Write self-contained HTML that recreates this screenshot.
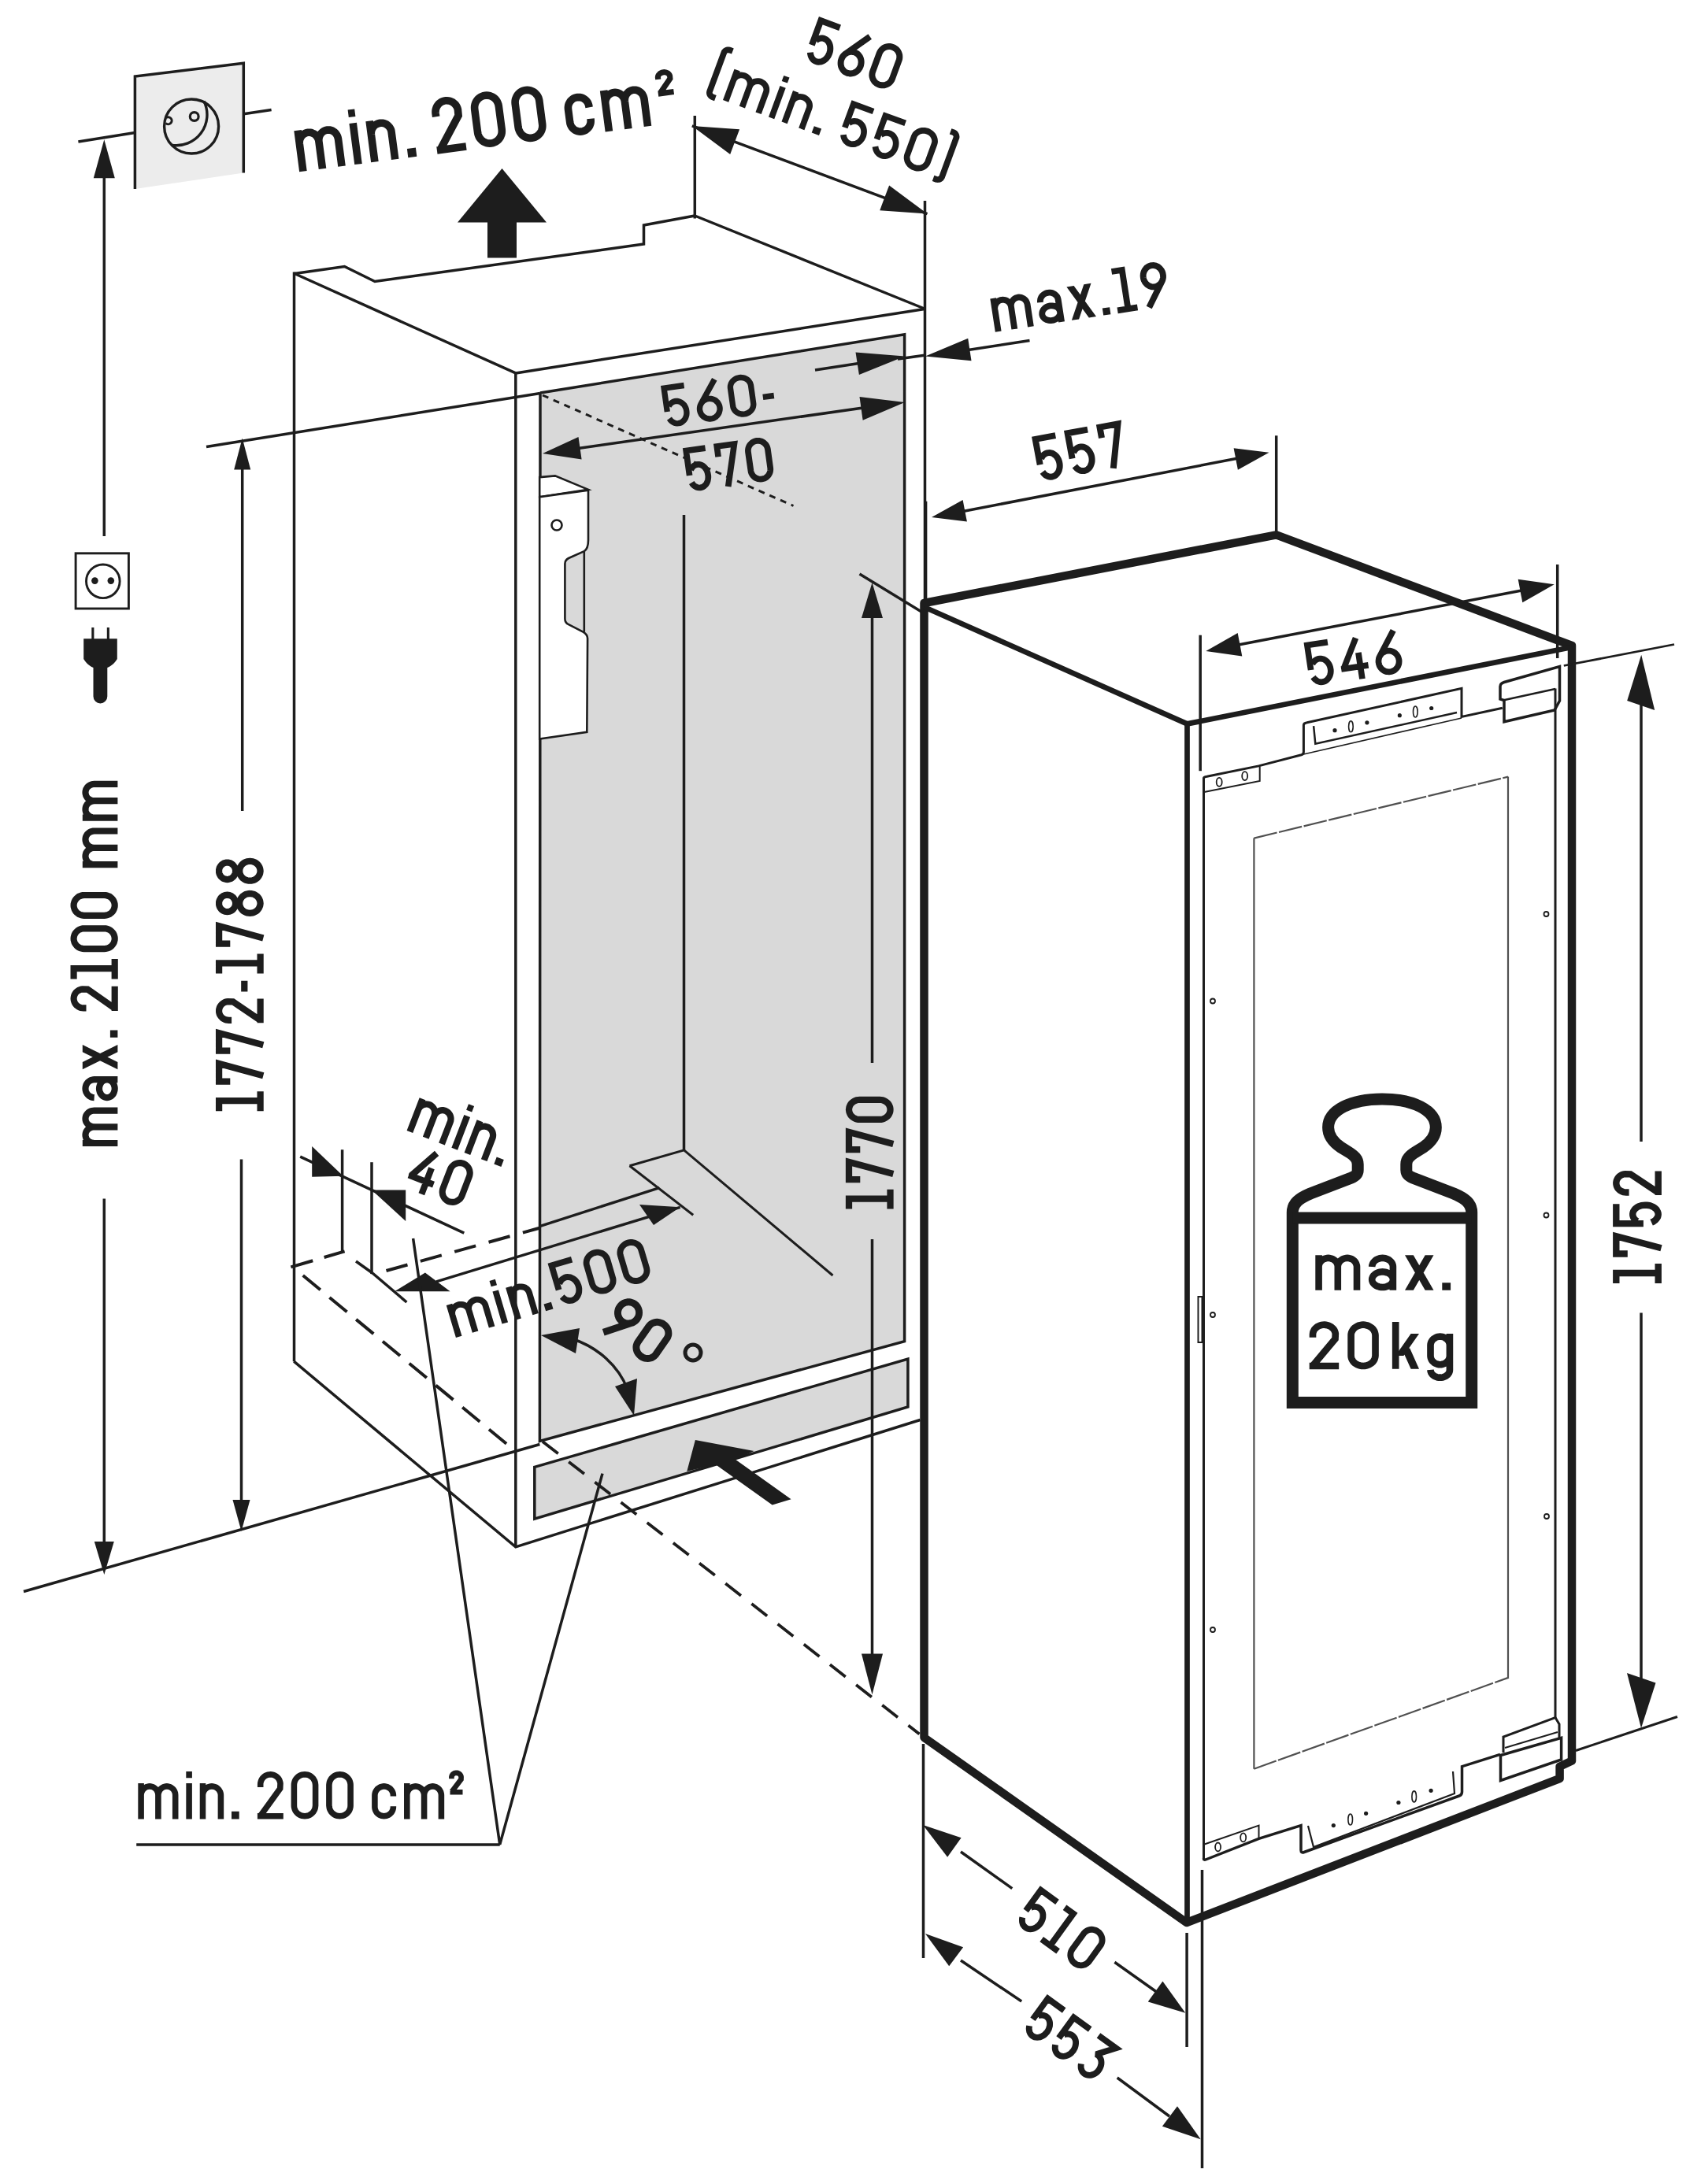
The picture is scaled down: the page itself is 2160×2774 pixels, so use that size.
<!DOCTYPE html>
<html><head><meta charset="utf-8"><style>
html,body{margin:0;padding:0;background:#fff;}
svg{display:block;}
text{font-family:"Liberation Sans",sans-serif;}
</style></head><body>
<svg xmlns="http://www.w3.org/2000/svg" width="2160" height="2774" viewBox="0 0 2160 2774">
<rect width="2160" height="2774" fill="#fff"/>
<g stroke="#1d1d1d" fill="none" stroke-linecap="butt" stroke-linejoin="miter">
<polygon points="171.4,97 309.3,80.3 309.3,219.6 171.4,239.9" fill="#ececec" stroke="none"/>
<polyline points="171.4,239.9 171.4,97 309.3,80.3 309.3,219.6" fill="none" stroke-width="3.5" />
<line x1="99.4" y1="180" x2="171.4" y2="168.5" stroke-width="3.5" />
<line x1="309.3" y1="144.7" x2="344.6" y2="139.4" stroke-width="3.5" />
<circle cx="243.1" cy="160.5" r="34.5" stroke-width="3.4"/>
<circle cx="246.7" cy="148" r="5.4" stroke-width="3.2"/>
<path d="M 211.5 149.3 A 4.5 4.5 0 1 1 210.5 156.5" stroke-width="3"/>
<path d="M 259 128.6 A 39 39 0 0 1 217.6 184.2" stroke-width="3.4"/>
<line x1="132.3" y1="220" x2="132.3" y2="681" stroke-width="3.5" />
<polygon points="132.3,177.3 145.8,226.3 118.8,226.3" fill="#1d1d1d" stroke="none"/>
<line x1="132.3" y1="1522.5" x2="132.3" y2="1965" stroke-width="3.5" />
<polygon points="132.3,2000 119.8,1958 144.8,1958" fill="#1d1d1d" stroke="none"/>
<path d="M104.8,1452.0 L149.4,1452.0 M119.7,1452.0 L119.7,1452.0 L118.2,1451.9 L116.8,1451.6 L115.4,1451.2 L114.1,1450.6 L112.9,1449.8 L111.8,1448.9 L110.8,1447.9 L110.0,1446.8 L109.3,1445.6 L108.9,1444.3 L108.6,1443.0 L108.5,1441.6 L108.6,1440.3 L108.9,1438.9 L109.3,1437.7 L110.0,1436.5 L110.8,1435.3 L111.8,1434.3 L112.9,1433.4 L114.1,1432.7 L115.4,1432.1 L116.8,1431.6 L118.2,1431.4 L119.7,1431.3 L149.4,1431.3 M119.7,1431.3 L119.7,1431.3 L118.2,1431.2 L116.8,1430.9 L115.4,1430.5 L114.1,1429.9 L112.9,1429.1 L111.8,1428.2 L110.8,1427.2 L110.0,1426.1 L109.3,1424.9 L108.9,1423.6 L108.6,1422.3 L108.5,1420.9 L108.6,1419.6 L108.9,1418.2 L109.3,1417.0 L110.0,1415.7 L110.8,1414.6 L111.8,1413.6 L112.9,1412.7 L114.1,1412.0 L115.4,1411.4 L116.8,1410.9 L118.2,1410.7 L119.7,1410.6 L149.4,1410.6 M119.7,1394.1 L118.2,1394.0 L116.8,1393.7 L115.4,1393.2 L114.1,1392.5 L112.9,1391.7 L111.8,1390.7 L110.8,1389.6 L110.0,1388.3 L109.3,1387.0 L108.9,1385.6 L108.6,1384.1 L108.5,1382.6 L108.6,1381.1 L108.9,1379.7 L109.3,1378.3 L110.0,1376.9 L110.8,1375.7 L111.8,1374.5 L112.9,1373.6 L114.1,1372.7 L115.4,1372.1 L116.8,1371.6 L118.2,1371.3 L119.7,1371.2 L149.4,1371.2 M135.9,1371.2 L137.1,1371.3 L138.4,1371.6 L139.6,1372.1 L140.8,1372.7 L141.8,1373.6 L142.8,1374.5 L143.7,1375.7 L144.4,1376.9 L144.9,1378.3 L145.3,1379.7 L145.6,1381.1 L145.7,1382.6 L145.6,1384.1 L145.3,1385.6 L144.9,1387.0 L144.4,1388.3 L143.7,1389.6 L142.8,1390.7 L141.8,1391.7 L140.8,1392.5 L139.6,1393.2 L138.4,1393.7 L137.1,1394.0 L135.9,1394.1 L134.6,1394.0 L133.3,1393.7 L132.1,1393.2 L131.0,1392.5 L129.9,1391.7 L128.9,1390.7 L128.1,1389.6 L127.4,1388.3 L126.8,1387.0 L126.4,1385.6 L126.1,1384.1 L126.0,1382.6 L126.1,1381.1 L126.4,1379.7 L126.8,1378.3 L127.4,1376.9 L128.1,1375.7 L128.9,1374.5 L129.9,1373.6 L131.0,1372.7 L132.1,1372.1 L133.3,1371.6 L134.6,1371.3 L135.9,1371.2 Z" stroke="#1d1d1d" stroke-width="8.18" fill="none" stroke-linejoin="miter" stroke-miterlimit="2.5"/>
<path d="M104.8,1358.3 L104.8,1349.0 L149.4,1327.0 L149.4,1336.3 Z M104.8,1336.3 L104.8,1327.0 L149.4,1349.0 L149.4,1358.3 Z M139.9,1317.8 L139.9,1308.5 L149.4,1308.5 L149.4,1317.8 Z" fill="#1d1d1d" stroke="none"/>
<path d="M109.5,1280.4 L106.0,1280.4 L104.3,1280.3 L102.7,1280.0 L101.2,1279.4 L99.7,1278.7 L98.4,1277.8 L97.1,1276.8 L96.1,1275.6 L95.2,1274.2 L94.5,1272.8 L94.0,1271.3 L93.7,1269.7 L93.6,1268.1 L93.8,1266.5 L94.1,1264.9 L94.7,1263.4 L95.5,1262.0 L96.4,1260.7 L97.5,1259.6 L98.8,1258.6 L100.2,1257.7 L101.7,1257.1 L103.3,1256.6 L104.9,1256.4 L111.3,1256.6 L144.5,1279.8 M145.7,1284.0 L145.7,1252.7 M93.6,1243.5 L93.6,1230.1 L145.7,1230.1 M145.7,1243.5 L145.7,1218.0 M106.9,1205.1 L105.1,1205.0 L103.4,1204.6 L101.8,1204.1 L100.2,1203.4 L98.8,1202.4 L97.5,1201.3 L96.4,1200.0 L95.4,1198.6 L94.6,1197.1 L94.1,1195.5 L93.7,1193.9 L93.6,1192.2 L93.7,1190.5 L94.1,1188.9 L94.6,1187.3 L95.4,1185.7 L96.4,1184.3 L97.5,1183.1 L98.8,1182.0 L100.2,1181.0 L101.8,1180.3 L103.4,1179.7 L105.1,1179.4 L106.9,1179.3 L132.4,1179.3 L134.2,1179.4 L135.9,1179.7 L137.5,1180.3 L139.1,1181.0 L140.5,1182.0 L141.8,1183.1 L142.9,1184.3 L143.9,1185.7 L144.7,1187.3 L145.2,1188.9 L145.6,1190.5 L145.7,1192.2 L145.6,1193.9 L145.2,1195.5 L144.7,1197.1 L143.9,1198.6 L142.9,1200.0 L141.8,1201.3 L140.5,1202.4 L139.1,1203.4 L137.5,1204.1 L135.9,1204.6 L134.2,1205.0 L132.4,1205.1 Z M106.9,1162.8 L105.1,1162.7 L103.4,1162.4 L101.8,1161.8 L100.2,1161.1 L98.8,1160.1 L97.5,1159.0 L96.4,1157.8 L95.4,1156.4 L94.6,1154.8 L94.1,1153.2 L93.7,1151.6 L93.6,1149.9 L93.7,1148.2 L94.1,1146.6 L94.6,1145.0 L95.4,1143.5 L96.4,1142.1 L97.5,1140.8 L98.8,1139.7 L100.2,1138.7 L101.8,1138.0 L103.4,1137.5 L105.1,1137.1 L106.9,1137.0 L132.4,1137.0 L134.2,1137.1 L135.9,1137.5 L137.5,1138.0 L139.1,1138.7 L140.5,1139.7 L141.8,1140.8 L142.9,1142.1 L143.9,1143.5 L144.7,1145.0 L145.2,1146.6 L145.6,1148.2 L145.7,1149.9 L145.6,1151.6 L145.2,1153.2 L144.7,1154.8 L143.9,1156.4 L142.9,1157.8 L141.8,1159.0 L140.5,1160.1 L139.1,1161.1 L137.5,1161.8 L135.9,1162.4 L134.2,1162.7 L132.4,1162.8 Z" stroke="#1d1d1d" stroke-width="8.18" fill="none" stroke-linejoin="miter" stroke-miterlimit="2.5"/>
<path d="M104.8,1098.2 L149.4,1098.2 M119.7,1098.2 L119.7,1098.2 L118.2,1098.1 L116.8,1097.8 L115.4,1097.4 L114.1,1096.7 L112.9,1096.0 L111.8,1095.1 L110.8,1094.0 L110.0,1092.8 L109.3,1091.6 L108.9,1090.3 L108.6,1088.9 L108.5,1087.5 L108.6,1086.1 L108.9,1084.8 L109.3,1083.4 L110.0,1082.2 L110.8,1081.0 L111.8,1080.0 L112.9,1079.1 L114.1,1078.3 L115.4,1077.7 L116.8,1077.2 L118.2,1077.0 L119.7,1076.9 L149.4,1076.9 M119.7,1076.9 L119.7,1076.9 L118.2,1076.8 L116.8,1076.5 L115.4,1076.0 L114.1,1075.4 L112.9,1074.7 L111.8,1073.7 L110.8,1072.7 L110.0,1071.5 L109.3,1070.3 L108.9,1069.0 L108.6,1067.6 L108.5,1066.2 L108.6,1064.8 L108.9,1063.4 L109.3,1062.1 L110.0,1060.9 L110.8,1059.7 L111.8,1058.7 L112.9,1057.7 L114.1,1057.0 L115.4,1056.4 L116.8,1055.9 L118.2,1055.6 L119.7,1055.5 L149.4,1055.5 M104.8,1038.6 L149.4,1038.6 M119.7,1038.6 L119.7,1038.6 L118.2,1038.5 L116.8,1038.2 L115.4,1037.7 L114.1,1037.1 L112.9,1036.4 L111.8,1035.4 L110.8,1034.4 L110.0,1033.2 L109.3,1032.0 L108.9,1030.7 L108.6,1029.3 L108.5,1027.9 L108.6,1026.5 L108.9,1025.1 L109.3,1023.8 L110.0,1022.6 L110.8,1021.4 L111.8,1020.4 L112.9,1019.4 L114.1,1018.7 L115.4,1018.1 L116.8,1017.6 L118.2,1017.3 L119.7,1017.2 L149.4,1017.2 M119.7,1017.2 L119.7,1017.2 L118.2,1017.1 L116.8,1016.9 L115.4,1016.4 L114.1,1015.8 L112.9,1015.0 L111.8,1014.1 L110.8,1013.1 L110.0,1011.9 L109.3,1010.7 L108.9,1009.3 L108.6,1008.0 L108.5,1006.6 L108.6,1005.2 L108.9,1003.8 L109.3,1002.5 L110.0,1001.3 L110.8,1000.1 L111.8,999.0 L112.9,998.1 L114.1,997.4 L115.4,996.7 L116.8,996.3 L118.2,996.0 L119.7,995.9 L149.4,995.9" stroke="#1d1d1d" stroke-width="8.18" fill="none" stroke-linejoin="miter" stroke-miterlimit="2.5"/>
<rect x="96.1" y="702.8" width="67.3" height="70.2" stroke-width="2.9"/>
<circle cx="130.8" cy="738.3" r="21.3" stroke-width="2.9"/>
<circle cx="120.4" cy="737.6" r="4.3" fill="#1d1d1d" stroke="none"/>
<circle cx="140.8" cy="737.6" r="4.3" fill="#1d1d1d" stroke="none"/>
<rect x="116.3" y="797" width="3.1" height="15" fill="#1d1d1d" stroke="none"/>
<rect x="135.8" y="797" width="3.1" height="15" fill="#1d1d1d" stroke="none"/>
<path d="M106.2 811.2 H148.8 V837 C146 842 141 846 136.3 848 V884.5 A8.9 8.9 0 0 1 118.5 884.5 V848 C114 846 109 842 106.2 837 Z" fill="#1d1d1d" stroke="none"/>
<line x1="307.7" y1="590" x2="307.7" y2="1030" stroke-width="3.5" />
<polygon points="307.7,556.4 318.2,596.4 297.2,596.4" fill="#1d1d1d" stroke="none"/>
<line x1="306.5" y1="1472.5" x2="306.5" y2="1910" stroke-width="3.5" />
<polygon points="306.5,1945 295.5,1905 317.5,1905" fill="#1d1d1d" stroke="none"/>
<path d="M278.1,1411.3 L278.1,1398.2 L330.6,1398.2 M330.6,1411.3 L330.6,1386.2 M292.3,1373.5 L278.1,1373.5 L278.1,1350.9 L334.3,1366.2 M292.3,1334.6 L278.1,1334.6 L278.1,1312.1 L334.3,1327.3 M294.1,1295.8 L290.5,1295.8 L288.9,1295.7 L287.2,1295.4 L285.7,1294.9 L284.2,1294.1 L282.8,1293.3 L281.6,1292.2 L280.5,1291.0 L279.6,1289.7 L278.9,1288.3 L278.4,1286.8 L278.1,1285.2 L278.1,1283.7 L278.2,1282.1 L278.6,1280.6 L279.1,1279.1 L279.9,1277.7 L280.9,1276.4 L282.0,1275.3 L283.3,1274.3 L284.7,1273.4 L286.2,1272.8 L287.8,1272.4 L289.4,1272.1 L295.9,1272.4 L329.4,1295.2 M330.6,1299.3 L330.6,1268.5 M310.3,1259.4 L310.3,1245.7 M278.1,1236.5 L278.1,1223.4 L330.6,1223.4 M330.6,1236.5 L330.6,1211.4 M292.3,1198.7 L278.1,1198.7 L278.1,1176.1 L334.3,1191.4 M288.6,1136.7 L289.9,1136.8 L291.3,1137.1 L292.6,1137.5 L293.8,1138.1 L294.9,1138.9 L296.0,1139.8 L296.9,1140.9 L297.6,1142.1 L298.3,1143.3 L298.7,1144.6 L299.0,1146.0 L299.1,1147.4 L299.0,1148.8 L298.7,1150.2 L298.3,1151.5 L297.6,1152.8 L296.9,1153.9 L296.0,1155.0 L294.9,1155.9 L293.8,1156.7 L292.6,1157.3 L291.3,1157.8 L289.9,1158.0 L288.6,1158.1 L287.2,1158.0 L285.8,1157.8 L284.5,1157.3 L283.3,1156.7 L282.2,1155.9 L281.1,1155.0 L280.2,1153.9 L279.5,1152.8 L278.8,1151.5 L278.4,1150.2 L278.1,1148.8 L278.1,1147.4 L278.1,1146.0 L278.4,1144.6 L278.8,1143.3 L279.5,1142.1 L280.2,1140.9 L281.1,1139.8 L282.2,1138.9 L283.3,1138.1 L284.5,1137.5 L285.8,1137.1 L287.2,1136.8 L288.6,1136.7 Z M317.4,1135.0 L319.1,1135.1 L320.8,1135.4 L322.4,1135.9 L323.9,1136.7 L325.4,1137.6 L326.7,1138.6 L327.8,1139.9 L328.8,1141.2 L329.5,1142.7 L330.1,1144.2 L330.4,1145.8 L330.6,1147.4 L330.4,1149.0 L330.1,1150.6 L329.5,1152.2 L328.8,1153.6 L327.8,1155.0 L326.7,1156.2 L325.4,1157.3 L323.9,1158.2 L322.4,1158.9 L320.8,1159.4 L319.1,1159.7 L317.4,1159.8 L315.6,1159.7 L313.9,1159.4 L312.3,1158.9 L310.8,1158.2 L309.3,1157.3 L308.0,1156.2 L306.9,1155.0 L305.9,1153.6 L305.2,1152.2 L304.6,1150.6 L304.3,1149.0 L304.2,1147.4 L304.3,1145.8 L304.6,1144.2 L305.2,1142.7 L305.9,1141.2 L306.9,1139.9 L308.0,1138.6 L309.3,1137.6 L310.8,1136.7 L312.3,1135.9 L313.9,1135.4 L315.6,1135.1 L317.4,1135.0 Z M288.6,1095.6 L289.9,1095.7 L291.3,1095.9 L292.6,1096.4 L293.8,1097.0 L294.9,1097.8 L296.0,1098.7 L296.9,1099.8 L297.6,1100.9 L298.3,1102.2 L298.7,1103.5 L299.0,1104.9 L299.1,1106.3 L299.0,1107.7 L298.7,1109.1 L298.3,1110.4 L297.6,1111.6 L296.9,1112.8 L296.0,1113.9 L294.9,1114.8 L293.8,1115.6 L292.6,1116.2 L291.3,1116.6 L289.9,1116.9 L288.6,1117.0 L287.2,1116.9 L285.8,1116.6 L284.5,1116.2 L283.3,1115.6 L282.2,1114.8 L281.1,1113.9 L280.2,1112.8 L279.5,1111.6 L278.8,1110.4 L278.4,1109.1 L278.1,1107.7 L278.1,1106.3 L278.1,1104.9 L278.4,1103.5 L278.8,1102.2 L279.5,1100.9 L280.2,1099.8 L281.1,1098.7 L282.2,1097.8 L283.3,1097.0 L284.5,1096.4 L285.8,1095.9 L287.2,1095.7 L288.6,1095.6 Z M317.4,1093.9 L319.1,1094.0 L320.8,1094.3 L322.4,1094.8 L323.9,1095.5 L325.4,1096.4 L326.7,1097.5 L327.8,1098.7 L328.8,1100.1 L329.5,1101.5 L330.1,1103.1 L330.4,1104.7 L330.6,1106.3 L330.4,1107.9 L330.1,1109.5 L329.5,1111.0 L328.8,1112.5 L327.8,1113.9 L326.7,1115.1 L325.4,1116.1 L323.9,1117.1 L322.4,1117.8 L320.8,1118.3 L319.1,1118.6 L317.4,1118.7 L315.6,1118.6 L313.9,1118.3 L312.3,1117.8 L310.8,1117.1 L309.3,1116.1 L308.0,1115.1 L306.9,1113.9 L305.9,1112.5 L305.2,1111.0 L304.6,1109.5 L304.3,1107.9 L304.2,1106.3 L304.3,1104.7 L304.6,1103.1 L305.2,1101.5 L305.9,1100.1 L306.9,1098.7 L308.0,1097.5 L309.3,1096.4 L310.8,1095.5 L312.3,1094.8 L313.9,1094.3 L315.6,1094.0 L317.4,1093.9 Z" stroke="#1d1d1d" stroke-width="8.25" fill="none" stroke-linejoin="miter" stroke-miterlimit="2.5"/>
<line x1="262" y1="567.5" x2="686" y2="499.5" stroke-width="3.5" />
<polygon points="686,499 1148.6,424.7 1148.6,1703.7 685.4,1830.4" fill="#d9d9d9" stroke="none"/>
<polyline points="686,499 1148.6,424.7 1148.6,1703.7 685.4,1830.4 686,499" fill="none" stroke-width="3.5" />
<polygon points="678.8,1863.4 1152.9,1726.1 1152.9,1787 678.8,1929.2" fill="#d9d9d9" stroke="none"/>
<polygon points="678.8,1863.4 1152.9,1726.1 1152.9,1787 678.8,1929.2" fill="none" stroke-width="3.5" />
<line x1="373.5" y1="345.5" x2="373.5" y2="1729.2" stroke-width="3.5" />
<polyline points="374,347.5 437.5,338.5 476,357.5 817.5,310 817.5,286 882.3,274" fill="none" stroke-width="3.5" />
<line x1="374" y1="347.5" x2="654.8" y2="473.9" stroke-width="3.5" />
<line x1="882.3" y1="274" x2="1175" y2="392.5" stroke-width="3.5" />
<line x1="654.8" y1="473.9" x2="1174" y2="392.5" stroke-width="3.5" />
<line x1="654.8" y1="472" x2="654.8" y2="1964.8" stroke-width="3.5" />
<polyline points="373.2,1729.2 654.8,1964.8 1168.4,1803.5" fill="none" stroke-width="3.5" />
<line x1="1174.5" y1="255" x2="1174.5" y2="2207" stroke-width="3.5" />
<line x1="30" y1="2021.5" x2="685.4" y2="1834.5" stroke-width="3.5" />
<polygon points="685.2,606.1 704.9,604.4 747,621.8 685.2,631.3" fill="#fff" stroke-width="2.6" />
<path d="M685.2 631.3 L747 622.6 V686 Q747 697 741.8 700.1 L722 709 Q717.4 711.5 717.4 716 V786 Q717.4 791 722 793.2 L740.9 802.8 Q746.1 806 746.1 811 L745.3 929.8 L685.2 938.5 Z" fill="#fff" stroke-width="2.6"/>
<line x1="741.8" y1="700.1" x2="741.8" y2="802.8" stroke-width="2.6" />
<circle cx="707" cy="667" r="6.5" stroke-width="2.6"/>
<line x1="868.5" y1="654" x2="868.5" y2="1461" stroke-width="3.5" />
<polyline points="799.5,1480.7 868.6,1460.9 1057.5,1620" fill="none" stroke-width="3" />
<line x1="799.5" y1="1480.7" x2="880.2" y2="1543.2" stroke-width="3" />
<line x1="689" y1="502" x2="1007.5" y2="642.5" stroke-width="3" stroke-dasharray="8 7"/>
<line x1="720" y1="571.5" x2="1110" y2="516" stroke-width="3.5" />
<polygon points="689,576 734.5,554.9 738.6,583.6" fill="#1d1d1d" stroke="none"/>
<polygon points="1149,511 1095.6,533.7 1091.5,504" fill="#1d1d1d" stroke="none"/>
<path d="M868.6,489.5 L843.1,493.1 L847.3,523.1 M849.2,515.9 L850.1,514.4 L851.2,513.0 L852.5,511.8 L853.8,510.9 L855.3,510.2 L856.9,509.7 L858.5,509.5 L860.2,509.5 L861.8,509.8 L863.4,510.3 L864.9,511.1 L866.4,512.1 L867.7,513.3 L868.9,514.6 L869.9,516.2 L870.7,517.9 L871.3,519.6 L871.7,521.5 L871.9,523.4 L871.9,525.3 L871.7,527.2 L871.2,529.0 L870.6,530.7 L869.7,532.2 L868.7,533.7 L867.5,534.9 L866.2,536.0 L864.7,536.8 L863.2,537.4 L861.6,537.7 L859.9,537.8 L858.3,537.6 L856.7,537.2 L855.1,536.5 L853.6,535.6 L852.3,534.5 L851.0,533.2 L849.9,531.7 M914.0,517.4 L914.1,518.5 L914.1,519.6 L914.0,520.7 L913.8,521.8 L913.5,522.9 L913.2,524.0 L912.7,525.0 L912.1,526.0 L911.5,526.9 L910.8,527.8 L910.0,528.5 L909.2,529.3 L908.3,529.9 L907.3,530.5 L906.3,531.0 L905.2,531.4 L904.2,531.7 L903.1,531.9 L902.0,532.0 L900.8,532.0 L899.7,531.9 L898.6,531.7 L897.5,531.4 L896.5,531.1 L895.5,530.6 L894.5,530.0 L893.6,529.4 L892.7,528.7 L891.9,527.9 L891.2,527.1 L890.5,526.2 L890.0,525.2 L889.5,524.2 L889.1,523.1 L888.8,522.1 L888.6,521.0 L888.5,519.8 L888.5,518.7 L888.6,517.6 L888.8,516.5 L889.0,515.4 L889.4,514.4 L889.9,513.4 L890.4,512.4 L891.1,511.5 L891.8,510.6 L892.5,509.8 L893.4,509.1 L894.3,508.4 L895.3,507.9 L896.3,507.4 L897.3,507.0 L898.4,506.7 L899.5,506.5 L900.6,506.4 L901.7,506.4 L902.8,506.5 L903.9,506.6 L905.0,506.9 L906.1,507.3 L907.1,507.8 L908.1,508.3 L909.0,508.9 L909.8,509.7 L910.6,510.4 L911.4,511.3 L912.0,512.2 L912.6,513.2 L913.1,514.2 L913.5,515.2 L913.8,516.3 L914.0,517.4 Z M907.3,481.8 L890.1,513.0 M927.5,493.2 L927.4,491.7 L927.5,490.1 L927.9,488.6 L928.4,487.1 L929.2,485.7 L930.1,484.4 L931.3,483.2 L932.6,482.1 L934.0,481.2 L935.5,480.5 L937.2,480.0 L938.8,479.7 L940.5,479.5 L942.2,479.6 L943.9,479.9 L945.5,480.3 L947.1,481.0 L948.5,481.8 L949.8,482.8 L950.9,484.0 L951.8,485.2 L952.6,486.6 L953.1,488.1 L953.5,489.6 L956.7,512.3 L956.8,513.9 L956.6,515.4 L956.3,517.0 L955.7,518.5 L955.0,519.9 L954.0,521.2 L952.9,522.4 L951.6,523.4 L950.2,524.3 L948.6,525.1 L947.0,525.6 L945.3,525.9 L943.6,526.1 L941.9,526.0 L940.2,525.7 L938.6,525.3 L937.1,524.6 L935.7,523.8 L934.4,522.8 L933.3,521.6 L932.3,520.3 L931.6,519.0 L931.0,517.5 L930.7,516.0 Z M968.8,504.4 L982.8,502.5" stroke="#1d1d1d" stroke-width="7.34" fill="none" stroke-linejoin="miter" stroke-miterlimit="2.5"/>
<path d="M895.6,569.1 L871.2,572.5 L875.6,604.0 M877.3,596.4 L878.2,594.9 L879.2,593.5 L880.4,592.3 L881.7,591.3 L883.2,590.5 L884.7,590.1 L886.2,589.8 L887.8,589.9 L889.4,590.2 L890.9,590.8 L892.4,591.6 L893.8,592.6 L895.1,593.9 L896.2,595.4 L897.2,597.0 L898.0,598.8 L898.6,600.7 L899.0,602.6 L899.3,604.6 L899.3,606.6 L899.1,608.5 L898.7,610.4 L898.1,612.2 L897.3,613.8 L896.3,615.3 L895.1,616.6 L893.9,617.7 L892.5,618.5 L891.0,619.1 L889.5,619.4 L887.9,619.5 L886.3,619.3 L884.8,618.8 L883.3,618.1 L881.8,617.2 L880.5,616.0 L879.3,614.6 L878.3,613.0 M912.1,580.2 L910.3,567.0 L932.4,563.9 L924.7,618.0 M950.0,574.0 L949.9,572.4 L950.0,570.8 L950.3,569.2 L950.8,567.6 L951.5,566.2 L952.4,564.8 L953.5,563.6 L954.7,562.5 L956.1,561.5 L957.5,560.8 L959.1,560.3 L960.7,559.9 L962.3,559.8 L964.0,559.9 L965.6,560.2 L967.1,560.7 L968.6,561.4 L970.0,562.3 L971.2,563.4 L972.3,564.6 L973.3,565.9 L974.0,567.4 L974.5,568.9 L974.9,570.5 L978.2,594.4 L978.3,596.0 L978.2,597.6 L977.9,599.2 L977.4,600.8 L976.7,602.2 L975.8,603.6 L974.7,604.8 L973.5,605.9 L972.1,606.9 L970.7,607.6 L969.1,608.1 L967.5,608.5 L965.9,608.6 L964.2,608.5 L962.6,608.2 L961.1,607.7 L959.6,607.0 L958.2,606.1 L957.0,605.0 L955.9,603.8 L955.0,602.5 L954.2,601.0 L953.7,599.5 L953.4,597.9 Z" stroke="#1d1d1d" stroke-width="7.70" fill="none" stroke-linejoin="miter" stroke-miterlimit="2.5"/>
<line x1="1307.5" y1="432.5" x2="1200" y2="449" stroke-width="3.5" />
<polygon points="1175,452.5 1229.2,429.7 1233.5,458.3" fill="#1d1d1d" stroke="none"/>
<line x1="1035" y1="470" x2="1120" y2="457" stroke-width="3.5" />
<line x1="1140" y1="456" x2="1174" y2="451.3" stroke-width="3.5" />
<polygon points="1149,452.5 1090.9,476.1 1086.5,447.4" fill="#1d1d1d" stroke="none"/>
<path d="M1261.2,378.9 L1267.7,421.1 M1263.4,393.0 L1263.4,393.0 L1263.2,391.6 L1263.3,390.2 L1263.5,388.8 L1263.9,387.5 L1264.5,386.2 L1265.2,385.0 L1266.1,384.0 L1267.1,383.0 L1268.2,382.2 L1269.4,381.6 L1270.7,381.1 L1272.0,380.8 L1273.4,380.7 L1274.8,380.8 L1276.1,381.0 L1277.4,381.5 L1278.6,382.0 L1279.8,382.8 L1280.9,383.7 L1281.8,384.7 L1282.6,385.9 L1283.2,387.1 L1283.7,388.4 L1284.0,389.8 L1288.3,418.0 M1284.0,389.8 L1284.0,389.8 L1283.8,388.4 L1283.9,387.0 L1284.1,385.6 L1284.5,384.3 L1285.1,383.1 L1285.8,381.9 L1286.7,380.8 L1287.7,379.9 L1288.8,379.1 L1290.0,378.4 L1291.3,378.0 L1292.6,377.7 L1294.0,377.5 L1295.4,377.6 L1296.7,377.9 L1298.0,378.3 L1299.2,378.9 L1300.4,379.6 L1301.4,380.5 L1302.4,381.6 L1303.2,382.7 L1303.8,384.0 L1304.3,385.3 L1304.6,386.6 L1308.9,414.8 M1321.0,384.1 L1320.9,382.7 L1321.0,381.3 L1321.2,379.9 L1321.7,378.6 L1322.3,377.3 L1323.2,376.1 L1324.1,375.1 L1325.3,374.1 L1326.5,373.3 L1327.8,372.6 L1329.3,372.1 L1330.7,371.8 L1332.2,371.7 L1333.7,371.7 L1335.2,371.9 L1336.6,372.3 L1338.0,372.9 L1339.3,373.7 L1340.4,374.6 L1341.4,375.6 L1342.3,376.7 L1342.9,377.9 L1343.4,379.3 L1343.7,380.6 L1348.1,408.8 M1346.1,396.0 L1346.2,397.2 L1346.1,398.4 L1345.8,399.7 L1345.3,400.9 L1344.6,402.0 L1343.8,403.1 L1342.8,404.0 L1341.6,404.9 L1340.4,405.6 L1339.0,406.2 L1337.6,406.7 L1336.2,407.0 L1334.7,407.2 L1333.2,407.2 L1331.7,407.0 L1330.3,406.6 L1328.9,406.2 L1327.7,405.5 L1326.6,404.8 L1325.6,403.9 L1324.8,402.9 L1324.1,401.8 L1323.6,400.7 L1323.3,399.5 L1323.3,398.2 L1323.4,397.0 L1323.7,395.8 L1324.2,394.6 L1324.8,393.5 L1325.7,392.4 L1326.7,391.4 L1327.8,390.5 L1329.0,389.8 L1330.4,389.2 L1331.8,388.7 L1333.3,388.4 L1334.8,388.3 L1336.3,388.3 L1337.8,388.5 L1339.2,388.8 L1340.5,389.3 L1341.8,389.9 L1342.9,390.7 L1343.9,391.6 L1344.7,392.5 L1345.3,393.6 L1345.8,394.8 L1346.1,396.0 Z M1411.5,345.0 L1424.8,342.9 L1432.4,392.2 M1419.1,394.3 L1444.5,390.4 M1476.8,348.8 L1477.0,350.0 L1477.0,351.1 L1477.0,352.3 L1476.8,353.5 L1476.5,354.7 L1476.2,355.8 L1475.8,356.9 L1475.2,357.9 L1474.6,358.9 L1474.0,359.8 L1473.2,360.7 L1472.4,361.4 L1471.5,362.1 L1470.6,362.7 L1469.6,363.3 L1468.5,363.7 L1467.5,364.0 L1466.4,364.2 L1465.3,364.3 L1464.2,364.3 L1463.1,364.3 L1462.0,364.1 L1460.9,363.8 L1459.8,363.4 L1458.8,362.9 L1457.9,362.3 L1456.9,361.6 L1456.1,360.9 L1455.2,360.0 L1454.5,359.1 L1453.8,358.2 L1453.3,357.1 L1452.7,356.1 L1452.3,354.9 L1452.0,353.8 L1451.8,352.6 L1451.7,351.4 L1451.6,350.2 L1451.7,349.1 L1451.8,347.9 L1452.1,346.7 L1452.4,345.6 L1452.9,344.5 L1453.4,343.5 L1454.0,342.5 L1454.7,341.6 L1455.4,340.7 L1456.2,339.9 L1457.1,339.3 L1458.1,338.6 L1459.1,338.1 L1460.1,337.7 L1461.2,337.4 L1462.2,337.2 L1463.3,337.1 L1464.4,337.0 L1465.5,337.1 L1466.6,337.3 L1467.7,337.6 L1468.8,338.0 L1469.8,338.5 L1470.8,339.1 L1471.7,339.8 L1472.6,340.5 L1473.4,341.4 L1474.1,342.3 L1474.8,343.2 L1475.4,344.3 L1475.9,345.3 L1476.3,346.5 L1476.6,347.6 L1476.8,348.8 Z M1459.2,390.5 L1475.6,357.3" stroke="#1d1d1d" stroke-width="7.84" fill="none" stroke-linejoin="miter" stroke-miterlimit="2.5"/>
<path d="M1354.4,364.6 L1363.6,363.1 L1392.0,402.0 L1382.8,403.5 Z M1376.3,361.2 L1385.5,359.8 L1370.1,405.4 L1360.9,406.8 Z M1399.8,391.6 L1409.1,390.2 L1410.4,399.2 L1401.2,400.6 Z" fill="#1d1d1d" stroke="none"/>
<line x1="882.3" y1="147" x2="882.3" y2="277.5" stroke-width="3.5" />
<line x1="878.8" y1="159.9" x2="1177.5" y2="271.6" stroke-width="3.5" />
<polygon points="878.8,159.9 939.1,164.3 927.2,196.1" fill="#1d1d1d" stroke="none"/>
<polygon points="1177.5,271.6 1117.2,267.2 1129.1,235.4" fill="#1d1d1d" stroke="none"/>
<path d="M1066.6,35.2 L1042.3,26.2 L1030.9,57.1 M1036.2,51.1 L1037.8,50.1 L1039.4,49.3 L1041.1,48.8 L1042.8,48.6 L1044.5,48.6 L1046.1,48.9 L1047.7,49.5 L1049.1,50.3 L1050.4,51.4 L1051.6,52.6 L1052.5,54.1 L1053.3,55.8 L1053.9,57.6 L1054.2,59.5 L1054.3,61.4 L1054.2,63.5 L1053.9,65.5 L1053.3,67.5 L1052.5,69.4 L1051.6,71.2 L1050.4,72.9 L1049.1,74.4 L1047.7,75.7 L1046.1,76.8 L1044.5,77.7 L1042.8,78.3 L1041.1,78.6 L1039.4,78.7 L1037.8,78.5 L1036.2,78.1 L1034.7,77.4 L1033.3,76.4 L1032.1,75.2 L1031.1,73.8 L1030.2,72.2 L1029.6,70.5 L1029.1,68.6 L1028.9,66.7 M1092.7,84.1 L1092.2,85.2 L1091.7,86.3 L1091.0,87.3 L1090.3,88.3 L1089.5,89.2 L1088.7,90.0 L1087.8,90.7 L1086.8,91.4 L1085.8,92.0 L1084.7,92.5 L1083.6,92.9 L1082.5,93.1 L1081.4,93.3 L1080.2,93.4 L1079.1,93.4 L1078.0,93.2 L1076.9,93.0 L1075.8,92.7 L1074.8,92.2 L1073.8,91.7 L1072.8,91.1 L1071.9,90.4 L1071.1,89.6 L1070.4,88.7 L1069.7,87.7 L1069.1,86.7 L1068.6,85.7 L1068.2,84.6 L1067.9,83.4 L1067.7,82.3 L1067.6,81.1 L1067.6,79.9 L1067.7,78.7 L1067.8,77.5 L1068.1,76.3 L1068.5,75.1 L1069.0,74.0 L1069.5,72.9 L1070.1,71.9 L1070.9,70.9 L1071.7,70.0 L1072.5,69.2 L1073.4,68.5 L1074.4,67.8 L1075.4,67.2 L1076.5,66.7 L1077.6,66.3 L1078.7,66.1 L1079.8,65.9 L1081.0,65.8 L1082.1,65.8 L1083.2,66.0 L1084.3,66.2 L1085.4,66.5 L1086.4,67.0 L1087.4,67.5 L1088.4,68.1 L1089.3,68.8 L1090.1,69.6 L1090.8,70.5 L1091.5,71.5 L1092.1,72.5 L1092.6,73.5 L1093.0,74.6 L1093.3,75.8 L1093.5,76.9 L1093.6,78.1 L1093.6,79.3 L1093.5,80.5 L1093.3,81.7 L1093.1,82.9 L1092.7,84.1 Z M1104.7,46.6 L1073.8,68.2 M1116.8,67.4 L1117.5,65.9 L1118.4,64.5 L1119.5,63.1 L1120.7,62.0 L1122.1,61.0 L1123.6,60.2 L1125.2,59.6 L1126.9,59.2 L1128.6,59.1 L1130.3,59.1 L1132.0,59.4 L1133.7,59.9 L1135.2,60.6 L1136.7,61.5 L1138.1,62.5 L1139.3,63.8 L1140.3,65.2 L1141.1,66.6 L1141.7,68.2 L1142.2,69.9 L1142.3,71.6 L1142.3,73.3 L1142.1,74.9 L1141.6,76.5 L1133.0,100.0 L1132.3,101.5 L1131.4,102.9 L1130.3,104.2 L1129.1,105.4 L1127.7,106.4 L1126.2,107.2 L1124.6,107.8 L1122.9,108.2 L1121.2,108.3 L1119.5,108.3 L1117.8,108.0 L1116.1,107.5 L1114.6,106.8 L1113.1,105.9 L1111.7,104.8 L1110.5,103.6 L1109.5,102.2 L1108.7,100.7 L1108.1,99.2 L1107.6,97.5 L1107.4,95.8 L1107.5,94.1 L1107.7,92.5 L1108.2,90.8 Z" stroke="#1d1d1d" stroke-width="7.97" fill="none" stroke-linejoin="miter" stroke-miterlimit="2.5"/>
<path d="M930.4,65.0 L927.0,63.7 L926.3,63.5 L925.5,63.4 L924.7,63.3 L923.9,63.4 L923.1,63.5 L922.4,63.8 L921.7,64.1 L921.0,64.5 L920.5,65.0 L920.0,65.6 L919.6,66.2 L919.3,66.9 L901.2,116.0 L901.0,116.7 L900.9,117.4 L900.9,118.2 L901.0,118.9 L901.2,119.6 L901.5,120.3 L902.0,121.0 L902.4,121.6 L903.0,122.2 L903.6,122.7 L904.3,123.1 L905.1,123.4 L908.4,124.6 M936.1,89.0 L921.6,128.4 M931.3,102.2 L931.3,102.2 L931.9,100.9 L932.6,99.7 L933.5,98.7 L934.5,97.7 L935.7,96.9 L936.9,96.3 L938.2,95.8 L939.6,95.5 L941.1,95.4 L942.5,95.5 L943.9,95.7 L945.3,96.1 L946.6,96.7 L947.9,97.4 L949.0,98.3 L950.0,99.3 L950.9,100.5 L951.6,101.7 L952.1,103.0 L952.5,104.3 L952.6,105.7 L952.6,107.1 L952.4,108.5 L952.0,109.8 L942.4,136.1 M952.0,109.8 L952.0,109.8 L952.6,108.5 L953.3,107.4 L954.2,106.3 L955.2,105.4 L956.4,104.6 L957.6,103.9 L959.0,103.5 L960.3,103.2 L961.8,103.0 L963.2,103.1 L964.6,103.3 L966.0,103.7 L967.3,104.3 L968.6,105.1 L969.7,105.9 L970.7,107.0 L971.6,108.1 L972.3,109.3 L972.8,110.6 L973.2,112.0 L973.3,113.3 L973.3,114.7 L973.1,116.1 L972.7,117.4 L963.1,143.7 M994.1,110.3 L979.6,149.8 M1010.6,116.4 L996.1,155.8 M1005.8,129.6 L1005.8,129.6 L1006.3,128.3 L1007.1,127.1 L1008.0,126.1 L1009.0,125.2 L1010.2,124.4 L1011.5,123.8 L1012.9,123.3 L1014.3,123.0 L1015.8,122.9 L1017.3,123.0 L1018.8,123.3 L1020.3,123.7 L1021.7,124.3 L1023.0,125.1 L1024.1,126.0 L1025.2,127.0 L1026.1,128.2 L1026.9,129.4 L1027.5,130.7 L1027.9,132.1 L1028.1,133.5 L1028.1,134.9 L1027.9,136.2 L1027.5,137.5 L1017.8,163.8 M1109.1,141.5 L1083.8,132.1 L1072.8,162.0 M1078.1,156.2 L1079.7,155.3 L1081.4,154.6 L1083.2,154.1 L1084.9,153.9 L1086.6,154.0 L1088.3,154.3 L1089.9,154.9 L1091.4,155.8 L1092.8,156.8 L1094.0,158.1 L1095.1,159.6 L1095.9,161.2 L1096.5,163.0 L1096.9,164.8 L1097.1,166.7 L1097.0,168.7 L1096.7,170.7 L1096.2,172.6 L1095.4,174.4 L1094.5,176.2 L1093.3,177.8 L1092.0,179.2 L1090.6,180.5 L1089.0,181.5 L1087.3,182.3 L1085.6,182.9 L1083.9,183.2 L1082.1,183.2 L1080.4,183.0 L1078.8,182.5 L1077.2,181.8 L1075.8,180.8 L1074.5,179.6 L1073.4,178.2 L1072.5,176.7 L1071.7,175.0 L1071.2,173.1 L1071.0,171.2 M1149.7,156.4 L1124.3,147.1 L1113.4,176.9 M1118.7,171.1 L1120.3,170.2 L1122.0,169.5 L1123.7,169.0 L1125.5,168.8 L1127.2,168.9 L1128.9,169.3 L1130.5,169.8 L1132.0,170.7 L1133.4,171.7 L1134.6,173.0 L1135.6,174.5 L1136.5,176.1 L1137.1,177.9 L1137.5,179.7 L1137.7,181.7 L1137.6,183.6 L1137.3,185.6 L1136.7,187.5 L1136.0,189.4 L1135.0,191.1 L1133.9,192.7 L1132.6,194.2 L1131.1,195.4 L1129.6,196.4 L1127.9,197.2 L1126.2,197.8 L1124.4,198.1 L1122.7,198.1 L1121.0,197.9 L1119.3,197.4 L1117.8,196.7 L1116.3,195.7 L1115.1,194.5 L1113.9,193.2 L1113.0,191.6 L1112.3,189.9 L1111.8,188.1 L1111.5,186.2 M1160.6,173.7 L1161.3,172.2 L1162.1,170.8 L1163.2,169.6 L1164.5,168.5 L1165.9,167.5 L1167.4,166.8 L1169.1,166.3 L1170.8,165.9 L1172.5,165.8 L1174.3,165.9 L1176.1,166.2 L1177.8,166.7 L1179.4,167.5 L1181.0,168.4 L1182.4,169.4 L1183.7,170.7 L1184.7,172.0 L1185.6,173.5 L1186.3,175.1 L1186.8,176.7 L1187.0,178.3 L1187.1,180.0 L1186.8,181.6 L1186.4,183.2 L1178.1,205.8 L1177.4,207.3 L1176.5,208.6 L1175.4,209.9 L1174.2,211.0 L1172.8,211.9 L1171.2,212.7 L1169.6,213.2 L1167.9,213.5 L1166.1,213.6 L1164.4,213.6 L1162.6,213.2 L1160.9,212.7 L1159.2,212.0 L1157.7,211.1 L1156.3,210.0 L1155.0,208.8 L1153.9,207.4 L1153.0,205.9 L1152.3,204.4 L1151.9,202.8 L1151.6,201.1 L1151.6,199.5 L1151.8,197.9 L1152.3,196.3 Z M1207.1,166.8 L1210.4,168.0 L1211.1,168.3 L1211.8,168.7 L1212.5,169.2 L1213.0,169.8 L1213.5,170.4 L1213.9,171.0 L1214.2,171.7 L1214.4,172.5 L1214.5,173.2 L1214.6,173.9 L1214.5,174.7 L1214.2,175.4 L1196.2,224.5 L1195.9,225.2 L1195.5,225.8 L1195.0,226.4 L1194.4,226.9 L1193.8,227.3 L1193.1,227.6 L1192.4,227.9 L1191.6,228.0 L1190.8,228.1 L1190.0,228.0 L1189.2,227.9 L1188.4,227.6 L1185.1,226.4" stroke="#1d1d1d" stroke-width="7.70" fill="none" stroke-linejoin="miter" stroke-miterlimit="2.5"/>
<path d="M995.3,95.9 L1002.5,98.5 L999.9,105.6 L992.7,103.0 Z M1033.8,160.2 L1043.1,163.6 L1040.0,172.0 L1030.7,168.6 Z" fill="#1d1d1d" stroke="none"/>
<path d="M378.1,165.6 L384.9,217.6 M380.4,182.9 L380.4,182.9 L380.2,181.2 L380.3,179.5 L380.6,177.8 L381.1,176.2 L381.9,174.7 L382.7,173.3 L383.8,172.0 L385.0,170.9 L386.4,169.9 L387.8,169.2 L389.3,168.6 L390.9,168.3 L392.6,168.2 L394.2,168.3 L395.8,168.7 L397.3,169.3 L398.8,170.0 L400.1,171.0 L401.3,172.1 L402.4,173.4 L403.3,174.9 L404.1,176.4 L404.6,178.0 L404.9,179.7 L409.5,214.4 M404.9,179.7 L404.9,179.7 L404.8,178.0 L404.9,176.3 L405.2,174.6 L405.7,173.0 L406.4,171.5 L407.3,170.0 L408.4,168.8 L409.6,167.6 L410.9,166.7 L412.4,166.0 L413.9,165.4 L415.5,165.1 L417.1,165.0 L418.7,165.1 L420.3,165.5 L421.9,166.0 L423.3,166.8 L424.7,167.8 L425.9,168.9 L427.0,170.2 L427.9,171.7 L428.6,173.2 L429.1,174.8 L429.5,176.5 L434.0,211.2 M448.2,156.4 L455.0,208.5 M469.1,153.7 L475.9,205.7 M471.4,171.0 L471.4,171.0 L471.3,169.3 L471.4,167.6 L471.7,165.9 L472.3,164.3 L473.0,162.8 L474.0,161.3 L475.1,160.0 L476.3,158.9 L477.8,158.0 L479.3,157.2 L480.9,156.7 L482.6,156.3 L484.3,156.2 L486.0,156.3 L487.6,156.7 L489.2,157.2 L490.8,158.0 L492.2,159.0 L493.4,160.1 L494.6,161.4 L495.5,162.8 L496.3,164.4 L496.8,166.0 L497.1,167.7 L501.7,202.4 M553.7,148.3 L553.1,144.1 L553.0,142.2 L553.1,140.3 L553.5,138.4 L554.1,136.6 L555.0,134.8 L556.1,133.2 L557.3,131.8 L558.8,130.6 L560.4,129.5 L562.1,128.7 L563.9,128.1 L565.8,127.8 L567.7,127.7 L569.6,127.9 L571.5,128.3 L573.3,129.0 L574.9,129.9 L576.5,131.1 L577.9,132.4 L579.1,133.9 L580.1,135.5 L580.9,137.3 L581.4,139.1 L582.1,146.7 L559.7,189.0 M554.9,191.0 L592.0,186.1 M602.7,138.7 L602.6,136.6 L602.7,134.6 L603.1,132.6 L603.7,130.7 L604.6,128.9 L605.8,127.2 L607.1,125.6 L608.6,124.3 L610.3,123.2 L612.1,122.3 L614.0,121.6 L616.0,121.2 L618.0,121.1 L620.0,121.2 L622.0,121.6 L623.9,122.3 L625.7,123.2 L627.4,124.3 L628.9,125.7 L630.2,127.2 L631.3,128.9 L632.2,130.8 L632.9,132.7 L633.3,134.7 L637.2,164.5 L637.3,166.6 L637.2,168.6 L636.8,170.6 L636.1,172.5 L635.3,174.3 L634.1,176.0 L632.8,177.6 L631.3,178.9 L629.6,180.0 L627.8,180.9 L625.9,181.6 L623.9,182.0 L621.9,182.1 L619.9,182.0 L617.9,181.6 L616.0,180.9 L614.2,180.0 L612.5,178.9 L611.0,177.5 L609.7,176.0 L608.5,174.3 L607.7,172.5 L607.0,170.5 L606.6,168.5 Z M654.2,131.9 L654.1,129.9 L654.2,127.9 L654.6,125.9 L655.3,124.0 L656.2,122.1 L657.3,120.4 L658.6,118.9 L660.1,117.6 L661.8,116.4 L663.6,115.5 L665.5,114.9 L667.5,114.5 L669.5,114.4 L671.5,114.5 L673.5,114.9 L675.4,115.6 L677.2,116.5 L678.9,117.6 L680.4,119.0 L681.7,120.5 L682.9,122.2 L683.8,124.0 L684.4,125.9 L684.8,127.9 L688.7,157.8 L688.8,159.8 L688.7,161.9 L688.3,163.9 L687.7,165.8 L686.8,167.6 L685.7,169.3 L684.3,170.8 L682.8,172.2 L681.1,173.3 L679.3,174.2 L677.4,174.8 L675.4,175.2 L673.4,175.4 L671.4,175.2 L669.4,174.8 L667.5,174.2 L665.7,173.3 L664.0,172.1 L662.5,170.8 L661.2,169.2 L660.1,167.5 L659.2,165.7 L658.5,163.8 L658.1,161.8 Z M748.1,136.3 L747.9,135.2 L747.6,133.5 L747.0,131.8 L746.3,130.2 L745.3,128.8 L744.1,127.4 L742.8,126.3 L741.4,125.3 L739.8,124.5 L738.2,123.9 L736.5,123.6 L734.7,123.5 L733.0,123.6 L731.3,123.9 L729.6,124.5 L728.0,125.3 L726.6,126.2 L725.3,127.4 L724.1,128.7 L723.2,130.2 L722.4,131.8 L721.8,133.4 L721.5,135.2 L721.4,136.9 L721.5,138.7 L723.7,155.3 L724.0,157.1 L724.6,158.7 L725.3,160.3 L726.3,161.8 L727.5,163.1 L728.8,164.3 L730.2,165.3 L731.8,166.0 L733.4,166.6 L735.2,167.0 L736.9,167.1 L738.6,167.0 L740.4,166.6 L742.0,166.1 L743.6,165.3 L745.0,164.3 L746.3,163.2 L747.5,161.8 L748.5,160.4 L749.2,158.8 L749.8,157.1 L750.1,155.4 L750.2,153.6 L750.1,151.9 L750.0,150.8 M766.6,114.8 L773.4,166.8 M768.8,132.1 L768.8,132.1 L768.7,130.4 L768.8,128.7 L769.1,127.0 L769.6,125.4 L770.4,123.9 L771.2,122.5 L772.3,121.2 L773.5,120.1 L774.9,119.1 L776.3,118.4 L777.8,117.8 L779.4,117.5 L781.0,117.4 L782.7,117.5 L784.3,117.9 L785.8,118.5 L787.3,119.2 L788.6,120.2 L789.8,121.3 L790.9,122.6 L791.8,124.1 L792.6,125.6 L793.1,127.2 L793.4,128.9 L797.9,163.6 M793.4,128.9 L793.4,128.9 L793.3,127.2 L793.4,125.5 L793.7,123.8 L794.2,122.2 L794.9,120.7 L795.8,119.2 L796.9,118.0 L798.1,116.8 L799.4,115.9 L800.9,115.2 L802.4,114.6 L804.0,114.3 L805.6,114.2 L807.2,114.3 L808.8,114.7 L810.4,115.2 L811.8,116.0 L813.2,117.0 L814.4,118.1 L815.5,119.4 L816.4,120.9 L817.1,122.4 L817.6,124.0 L818.0,125.7 L822.5,160.4" stroke="#1d1d1d" stroke-width="9.62" fill="none" stroke-linejoin="miter" stroke-miterlimit="2.5"/>
<path d="M441.6,139.6 L450.2,138.5 L451.4,147.9 L442.8,149.0 Z M516.9,189.1 L527.9,187.6 L529.3,198.8 L518.3,200.2 Z" fill="#1d1d1d" stroke="none"/>
<path d="M835.7,100.8 L835.5,99.0 L835.4,98.2 L835.5,97.3 L835.7,96.5 L836.1,95.7 L836.6,95.0 L837.2,94.3 L837.9,93.6 L838.7,93.1 L839.5,92.6 L840.5,92.2 L841.4,92.0 L842.4,91.8 L843.5,91.7 L844.5,91.8 L845.5,91.9 L846.4,92.2 L847.3,92.6 L848.1,93.0 L848.8,93.6 L849.4,94.2 L849.9,94.9 L850.3,95.7 L850.6,96.5 L850.9,99.7 L838.3,118.2 M835.8,119.1 L855.6,116.5" stroke="#1d1d1d" stroke-width="7.12" fill="none" stroke-linejoin="miter" stroke-miterlimit="2.5"/>
<polygon points="637.5,214 694,282.5 656,282.5 656,327.5 619,327.5 619,282.5 581,282.5" fill="#1d1d1d" stroke="none"/>
<line x1="1091.5" y1="729" x2="1175" y2="780" stroke-width="3.5" />
<line x1="1107.5" y1="760" x2="1107.5" y2="1350" stroke-width="3.5" />
<polygon points="1107.5,740 1121,785 1094,785" fill="#1d1d1d" stroke="none"/>
<line x1="1107.5" y1="1574" x2="1107.5" y2="2110" stroke-width="3.5" />
<polygon points="1107.5,2152.5 1094,2100.5 1121,2100.5" fill="#1d1d1d" stroke="none"/>
<path d="M1078.0,1535.4 L1078.0,1522.5 L1130.5,1522.5 M1130.5,1535.4 L1130.5,1510.7 M1092.3,1498.2 L1078.0,1498.2 L1078.0,1476.0 L1134.3,1491.1 M1092.3,1460.1 L1078.0,1460.1 L1078.0,1437.9 L1134.3,1452.9 M1091.4,1421.9 L1089.7,1421.8 L1087.9,1421.5 L1086.3,1420.9 L1084.7,1420.2 L1083.3,1419.3 L1082.0,1418.2 L1080.8,1417.0 L1079.8,1415.6 L1079.1,1414.2 L1078.5,1412.6 L1078.2,1411.0 L1078.0,1409.4 L1078.2,1407.8 L1078.5,1406.2 L1079.1,1404.6 L1079.8,1403.2 L1080.8,1401.8 L1082.0,1400.6 L1083.3,1399.5 L1084.7,1398.6 L1086.3,1397.9 L1087.9,1397.3 L1089.7,1397.0 L1091.4,1396.9 L1117.2,1396.9 L1118.9,1397.0 L1120.7,1397.3 L1122.3,1397.9 L1123.9,1398.6 L1125.3,1399.5 L1126.6,1400.6 L1127.8,1401.8 L1128.8,1403.2 L1129.5,1404.6 L1130.1,1406.2 L1130.4,1407.8 L1130.5,1409.4 L1130.4,1411.0 L1130.1,1412.6 L1129.5,1414.2 L1128.8,1415.6 L1127.8,1417.0 L1126.6,1418.2 L1125.3,1419.3 L1123.9,1420.2 L1122.3,1420.9 L1120.7,1421.5 L1118.9,1421.8 L1117.2,1421.9 Z" stroke="#1d1d1d" stroke-width="8.25" fill="none" stroke-linejoin="miter" stroke-miterlimit="2.5"/>
<line x1="1620.7" y1="553.3" x2="1620.7" y2="675" stroke-width="3.5" />
<line x1="1175.6" y1="636.7" x2="1175.6" y2="766" stroke-width="3.5" />
<line x1="1215" y1="651" x2="1580" y2="580.5" stroke-width="3.5" />
<polygon points="1183,657 1222.6,635.1 1227.9,662.6" fill="#1d1d1d" stroke="none"/>
<polygon points="1611.5,574.8 1571.9,596.7 1566.6,569.2" fill="#1d1d1d" stroke="none"/>
<path d="M1340.3,553.1 L1314.7,557.9 L1320.7,590.2 M1322.2,582.3 L1323.1,580.6 L1324.1,579.1 L1325.3,577.8 L1326.6,576.8 L1328.1,575.9 L1329.7,575.4 L1331.3,575.1 L1332.9,575.0 L1334.6,575.3 L1336.3,575.8 L1337.8,576.6 L1339.3,577.6 L1340.7,578.9 L1342.0,580.3 L1343.1,582.0 L1344.0,583.7 L1344.8,585.7 L1345.3,587.7 L1345.6,589.7 L1345.7,591.8 L1345.6,593.8 L1345.2,595.7 L1344.7,597.6 L1343.9,599.4 L1342.9,600.9 L1341.8,602.3 L1340.5,603.5 L1339.1,604.4 L1337.6,605.1 L1336.0,605.5 L1334.3,605.7 L1332.7,605.5 L1331.0,605.1 L1329.4,604.5 L1327.9,603.6 L1326.4,602.4 L1325.1,601.0 L1323.9,599.4 M1381.1,545.6 L1355.6,550.3 L1361.6,582.6 M1363.1,574.7 L1363.9,573.1 L1365.0,571.6 L1366.2,570.3 L1367.5,569.2 L1369.0,568.4 L1370.5,567.8 L1372.2,567.5 L1373.8,567.5 L1375.5,567.7 L1377.1,568.2 L1378.7,569.0 L1380.2,570.0 L1381.6,571.3 L1382.9,572.7 L1384.0,574.4 L1384.9,576.2 L1385.7,578.1 L1386.2,580.1 L1386.5,582.1 L1386.6,584.2 L1386.5,586.2 L1386.1,588.2 L1385.5,590.0 L1384.8,591.8 L1383.8,593.4 L1382.7,594.8 L1381.4,595.9 L1380.0,596.9 L1378.5,597.5 L1376.9,598.0 L1375.2,598.1 L1373.5,598.0 L1371.9,597.6 L1370.3,596.9 L1368.7,596.0 L1367.3,594.8 L1366.0,593.4 L1364.8,591.9 M1399.0,556.3 L1396.5,542.7 L1419.5,538.4 L1413.8,594.8" stroke="#1d1d1d" stroke-width="7.97" fill="none" stroke-linejoin="miter" stroke-miterlimit="2.5"/>
<path d="M1173.5,2207 V766 L1620.7,679.3 L1996,820 V2236.5 L1980.6,2243.8 V2259 L1506.8,2442 Z" stroke-width="10.5" stroke-linejoin="round"/>
<path d="M1173.5,771 L1507.5,919.4 L1996,822" stroke-width="6.7"/>
<line x1="1507.5" y1="919.4" x2="1507.5" y2="2440" stroke-width="6.7" />
<line x1="1524.2" y1="806.7" x2="1524.2" y2="979.2" stroke-width="3.5" />
<line x1="1977.7" y1="717" x2="1977.7" y2="836" stroke-width="3.5" />
<line x1="1570" y1="819.5" x2="1940" y2="748.5" stroke-width="3.5" />
<polygon points="1531.3,827 1571.7,804 1577.3,833.5" fill="#1d1d1d" stroke="none"/>
<polygon points="1973.7,742.3 1933.3,765.3 1927.7,735.8" fill="#1d1d1d" stroke="none"/>
<path d="M1685.9,815.6 L1659.9,819.5 L1664.6,851.0 M1666.5,843.4 L1667.4,841.8 L1668.5,840.3 L1669.8,839.1 L1671.2,838.1 L1672.7,837.3 L1674.3,836.8 L1675.9,836.6 L1677.6,836.6 L1679.3,836.9 L1680.9,837.4 L1682.5,838.2 L1683.9,839.3 L1685.3,840.5 L1686.5,842.0 L1687.6,843.6 L1688.4,845.3 L1689.1,847.2 L1689.5,849.1 L1689.8,851.1 L1689.8,853.1 L1689.6,855.1 L1689.1,857.0 L1688.5,858.7 L1687.6,860.4 L1686.6,861.9 L1685.4,863.2 L1684.1,864.3 L1682.6,865.2 L1681.0,865.8 L1679.4,866.2 L1677.7,866.3 L1676.0,866.1 L1674.4,865.7 L1672.8,865.0 L1671.3,864.0 L1669.9,862.9 L1668.6,861.5 L1667.5,860.0 M1721.5,810.3 L1706.7,848.1 L1706.9,849.5 M1703.2,850.0 L1737.6,844.9 M1724.9,828.9 L1729.9,862.2 M1776.5,838.1 L1776.6,839.2 L1776.6,840.4 L1776.5,841.6 L1776.4,842.7 L1776.1,843.9 L1775.7,845.0 L1775.3,846.0 L1774.7,847.1 L1774.1,848.0 L1773.4,848.9 L1772.6,849.8 L1771.7,850.5 L1770.8,851.2 L1769.8,851.8 L1768.8,852.3 L1767.8,852.7 L1766.7,853.1 L1765.5,853.3 L1764.4,853.4 L1763.3,853.4 L1762.1,853.3 L1761.0,853.1 L1759.9,852.9 L1758.8,852.5 L1757.8,852.0 L1756.8,851.4 L1755.8,850.8 L1755.0,850.0 L1754.1,849.2 L1753.4,848.3 L1752.7,847.4 L1752.1,846.4 L1751.6,845.3 L1751.2,844.2 L1750.9,843.1 L1750.7,841.9 L1750.5,840.8 L1750.5,839.6 L1750.6,838.4 L1750.8,837.3 L1751.0,836.1 L1751.4,835.0 L1751.9,833.9 L1752.4,832.9 L1753.0,832.0 L1753.7,831.0 L1754.5,830.2 L1755.4,829.4 L1756.3,828.8 L1757.3,828.2 L1758.3,827.7 L1759.4,827.2 L1760.5,826.9 L1761.6,826.7 L1762.7,826.6 L1763.8,826.6 L1765.0,826.7 L1766.1,826.8 L1767.2,827.1 L1768.3,827.5 L1769.3,828.0 L1770.3,828.6 L1771.3,829.2 L1772.2,830.0 L1773.0,830.8 L1773.7,831.7 L1774.4,832.6 L1775.0,833.6 L1775.5,834.7 L1775.9,835.8 L1776.2,836.9 L1776.5,838.1 Z M1769.2,800.8 L1752.1,833.5" stroke="#1d1d1d" stroke-width="7.70" fill="none" stroke-linejoin="miter" stroke-miterlimit="2.5"/>
<path d="M1528.5,2363 V988.4 Q1528.5,986.8 1532.7,986.3 L1598.3,972.9 L1652.6,958.8 Q1655.4,958 1655.4,955 V921 Q1655.4,918.5 1659.7,917.8 L1856,874.4 V910.4 L1907.8,899.3" stroke-width="3"/>
<polyline points="1599.7,973.6 1599.7,991.9 1529.2,1006" fill="none" stroke-width="2" />
<ellipse cx="1548.2" cy="993.3" rx="3.5" ry="5.5" stroke-width="1.8"/>
<ellipse cx="1580.7" cy="985.6" rx="3.5" ry="5.5" stroke-width="1.8"/>
<polyline points="1668.1,922.1 1670.3,944.7 1850,905" fill="none" stroke-width="2.5" />
<line x1="1655.4" y1="958" x2="1856" y2="912" stroke-width="1.6" />
<circle cx="1695" cy="927.7" r="2.6" fill="#1d1d1d" stroke="none"/>
<circle cx="1735.9" cy="917.8" r="2.6" fill="#1d1d1d" stroke="none"/>
<circle cx="1777.4" cy="908.7" r="2.6" fill="#1d1d1d" stroke="none"/>
<circle cx="1817.7" cy="899.5" r="2.6" fill="#1d1d1d" stroke="none"/>
<ellipse cx="1715.4" cy="922.8" rx="2.8" ry="7" stroke-width="1.6"/>
<ellipse cx="1797.3" cy="904" rx="2.8" ry="7" stroke-width="1.6"/>
<path d="M1905,888 V872 Q1905,868 1910,866.5 L1980.5,846.5 V890 L1974,902 L1910,916.8 V889.5 Z" stroke-width="3.5"/>
<line x1="1908.5" y1="889.5" x2="1975" y2="875" stroke-width="2.5" />
<line x1="1975" y1="874.4" x2="1975" y2="2182.5" stroke-width="3" />
<path d="M1592.4,2246.7 V1064.6" stroke-width="2.2" stroke="#505050"/>
<path d="M1915,986.6 V2130.6" stroke-width="2.2" stroke="#505050"/>
<path d="M1592.4,1064.6 L1915,986.6" stroke-width="2.2" stroke="#505050" stroke-dasharray="30 2.5"/>
<path d="M1592.4,2246.7 L1916,2130.6" stroke-width="2.2" stroke="#505050" stroke-dasharray="30 2.5"/>
<circle cx="1540" cy="1271.5" r="3" stroke-width="1.8"/>
<circle cx="1963.5" cy="1161" r="3" stroke-width="1.8"/>
<circle cx="1963.5" cy="1543.5" r="3" stroke-width="1.8"/>
<circle cx="1540" cy="1670" r="3" stroke-width="1.8"/>
<circle cx="1540" cy="2070" r="3" stroke-width="1.8"/>
<circle cx="1964" cy="1926" r="3" stroke-width="1.8"/>
<rect x="1521.5" y="1647" width="5" height="58" stroke-width="2"/>
<path d="M1528.5,2360 Q1528.5,2363 1531,2362 L1598.5,2335.4 L1652,2318.6 V2350 Q1652,2354 1656,2352.5 L1853,2281 Q1856.5,2280 1856.5,2276 V2243.7 L1905,2228.4" stroke-width="3.5"/>
<polyline points="1528,2343 1598.5,2318.6 1598.5,2335.4" fill="none" stroke-width="2" />
<ellipse cx="1546.6" cy="2346" rx="3.5" ry="5.5" stroke-width="1.8"/>
<ellipse cx="1578.7" cy="2333.9" rx="3.5" ry="5.5" stroke-width="1.8"/>
<polyline points="1661,2319 1668,2346 1847,2278 1845,2250" fill="none" stroke-width="2.2" />
<circle cx="1693.3" cy="2318.6" r="2.6" fill="#1d1d1d" stroke="none"/>
<circle cx="1734.6" cy="2303.3" r="2.6" fill="#1d1d1d" stroke="none"/>
<circle cx="1775.9" cy="2289.5" r="2.6" fill="#1d1d1d" stroke="none"/>
<circle cx="1817.1" cy="2274.3" r="2.6" fill="#1d1d1d" stroke="none"/>
<ellipse cx="1714.7" cy="2311" rx="2.8" ry="7" stroke-width="1.6"/>
<ellipse cx="1795.7" cy="2281.9" rx="2.8" ry="7" stroke-width="1.6"/>
<path d="M1905.5,2229.5 L1982.6,2207.3 V2235 L1905.5,2261.5 Z" stroke-width="3.5"/>
<path d="M1909,2226 V2206 L1975,2181.5 L1980,2190 V2208" stroke-width="3"/>
<line x1="1911" y1="2220" x2="1978" y2="2200" stroke-width="2" />
<line x1="1526.5" y1="2375" x2="1526.5" y2="2754" stroke-width="3.5" />
<line x1="1507.1" y1="2455" x2="1507.1" y2="2600" stroke-width="3.5" />
<line x1="1172.5" y1="2215" x2="1172.5" y2="2487" stroke-width="3.5" />
<path d="M1641.3,1781.5 V1540 C1641.3,1528 1650,1522 1664,1516 L1716,1496 C1722,1493.5 1724.2,1491 1724.2,1486 V1479 C1724.2,1472 1720,1468 1712,1463 L1703,1457.5 C1692,1450 1686.6,1442 1686.6,1432 C1686.6,1410 1716,1395.9 1755,1395.9 C1794,1395.9 1823.3,1410 1823.3,1432 C1823.3,1442 1818,1450 1807,1457.5 L1798,1463 C1790,1468 1785.8,1472 1785.8,1479 V1486 C1785.8,1491 1788,1493.5 1794,1496 L1846,1516 C1860,1522 1868.7,1528 1868.7,1540 V1781.5 Z" stroke-width="15" fill="#fff"/>
<line x1="1641.3" y1="1547.1" x2="1868.7" y2="1547.1" stroke-width="15" />
<path d="M1674.6,1594.2 L1674.6,1638.7 M1674.6,1609.0 L1674.6,1609.0 L1674.7,1607.6 L1675.0,1606.2 L1675.5,1604.8 L1676.2,1603.5 L1677.1,1602.3 L1678.2,1601.2 L1679.4,1600.2 L1680.7,1599.4 L1682.1,1598.8 L1683.6,1598.3 L1685.1,1598.0 L1686.7,1597.9 L1688.3,1598.0 L1689.8,1598.3 L1691.3,1598.8 L1692.7,1599.4 L1694.1,1600.2 L1695.3,1601.2 L1696.3,1602.3 L1697.2,1603.5 L1697.9,1604.8 L1698.4,1606.2 L1698.7,1607.6 L1698.8,1609.0 L1698.8,1638.7 M1698.8,1609.0 L1698.8,1609.0 L1698.9,1607.6 L1699.2,1606.2 L1699.7,1604.8 L1700.4,1603.5 L1701.3,1602.3 L1702.3,1601.2 L1703.5,1600.2 L1704.8,1599.4 L1706.3,1598.8 L1707.7,1598.3 L1709.3,1598.0 L1710.9,1597.9 L1712.5,1598.0 L1714.0,1598.3 L1715.5,1598.8 L1716.9,1599.4 L1718.2,1600.2 L1719.4,1601.2 L1720.5,1602.3 L1721.3,1603.5 L1722.0,1604.8 L1722.5,1606.2 L1722.9,1607.6 L1723.0,1609.0 L1723.0,1638.7 M1742.2,1609.0 L1742.3,1607.6 L1742.7,1606.2 L1743.2,1604.8 L1744.0,1603.5 L1745.0,1602.3 L1746.1,1601.2 L1747.4,1600.2 L1748.9,1599.4 L1750.5,1598.8 L1752.1,1598.3 L1753.8,1598.0 L1755.6,1597.9 L1757.3,1598.0 L1759.0,1598.3 L1760.7,1598.8 L1762.2,1599.4 L1763.7,1600.2 L1765.0,1601.2 L1766.2,1602.3 L1767.1,1603.5 L1767.9,1604.8 L1768.5,1606.2 L1768.8,1607.6 L1768.9,1609.0 L1768.9,1638.7 M1768.9,1625.2 L1768.8,1626.5 L1768.5,1627.7 L1767.9,1629.0 L1767.1,1630.1 L1766.2,1631.2 L1765.0,1632.1 L1763.7,1633.0 L1762.2,1633.7 L1760.7,1634.2 L1759.0,1634.7 L1757.3,1634.9 L1755.6,1635.0 L1753.8,1634.9 L1752.1,1634.7 L1750.5,1634.2 L1748.9,1633.7 L1747.4,1633.0 L1746.1,1632.1 L1745.0,1631.2 L1744.0,1630.1 L1743.2,1629.0 L1742.7,1627.7 L1742.3,1626.5 L1742.2,1625.2 L1742.3,1623.9 L1742.7,1622.7 L1743.2,1621.5 L1744.0,1620.3 L1745.0,1619.3 L1746.1,1618.3 L1747.4,1617.4 L1748.9,1616.7 L1750.5,1616.2 L1752.1,1615.8 L1753.8,1615.5 L1755.6,1615.4 L1757.3,1615.5 L1759.0,1615.8 L1760.7,1616.2 L1762.2,1616.7 L1763.7,1617.4 L1765.0,1618.3 L1766.2,1619.3 L1767.1,1620.3 L1767.9,1621.5 L1768.5,1622.7 L1768.8,1623.9 L1768.9,1625.2 Z" stroke="#1d1d1d" stroke-width="8.60" fill="none" stroke-linejoin="miter" stroke-miterlimit="2.5"/>
<path d="M1784.0,1594.2 L1794.8,1594.2 L1820.5,1638.7 L1809.7,1638.7 Z M1809.7,1594.2 L1820.5,1594.2 L1794.8,1638.7 L1784.0,1638.7 Z M1831.3,1629.2 L1842.1,1629.2 L1842.1,1638.7 L1831.3,1638.7 Z" fill="#1d1d1d" stroke="none"/>
<path d="M1667.0,1698.7 L1667.0,1695.1 L1667.2,1693.5 L1667.5,1691.9 L1668.2,1690.3 L1669.0,1688.8 L1670.1,1687.5 L1671.4,1686.3 L1672.8,1685.2 L1674.4,1684.3 L1676.1,1683.6 L1678.0,1683.1 L1679.8,1682.8 L1681.8,1682.7 L1683.7,1682.9 L1685.5,1683.2 L1687.3,1683.8 L1689.0,1684.6 L1690.6,1685.5 L1691.9,1686.7 L1693.2,1687.9 L1694.2,1689.3 L1694.9,1690.8 L1695.5,1692.4 L1695.8,1694.0 L1695.5,1700.5 L1667.7,1733.8 M1662.7,1735.0 L1700.2,1735.0 M1715.6,1696.0 L1715.7,1694.3 L1716.1,1692.6 L1716.8,1690.9 L1717.7,1689.4 L1718.8,1687.9 L1720.1,1686.6 L1721.6,1685.5 L1723.3,1684.5 L1725.1,1683.7 L1727.0,1683.2 L1729.0,1682.8 L1731.0,1682.7 L1733.0,1682.8 L1735.0,1683.2 L1736.9,1683.7 L1738.7,1684.5 L1740.4,1685.5 L1741.9,1686.6 L1743.3,1687.9 L1744.4,1689.4 L1745.3,1690.9 L1745.9,1692.6 L1746.3,1694.3 L1746.5,1696.0 L1746.5,1721.7 L1746.3,1723.4 L1745.9,1725.1 L1745.3,1726.8 L1744.4,1728.3 L1743.3,1729.8 L1741.9,1731.1 L1740.4,1732.2 L1738.7,1733.2 L1736.9,1734.0 L1735.0,1734.5 L1733.0,1734.9 L1731.0,1735.0 L1729.0,1734.9 L1727.0,1734.5 L1725.1,1734.0 L1723.3,1733.2 L1721.6,1732.2 L1720.1,1731.1 L1718.8,1729.8 L1717.7,1728.3 L1716.8,1726.8 L1716.1,1725.1 L1715.7,1723.4 L1715.6,1721.7 Z" stroke="#1d1d1d" stroke-width="8.66" fill="none" stroke-linejoin="miter" stroke-miterlimit="2.5"/>
<path d="M1772.2,1679.0 L1772.2,1738.7 M1816.5,1708.9 L1816.6,1707.4 L1816.9,1706.0 L1817.4,1704.6 L1818.1,1703.3 L1819.0,1702.0 L1820.1,1700.9 L1821.3,1700.0 L1822.6,1699.2 L1824.0,1698.5 L1825.5,1698.0 L1827.1,1697.8 L1828.7,1697.7 L1830.3,1697.8 L1831.9,1698.0 L1833.4,1698.5 L1834.8,1699.2 L1836.1,1700.0 L1837.3,1700.9 L1838.4,1702.0 L1839.3,1703.3 L1840.0,1704.6 L1840.5,1706.0 L1840.8,1707.4 L1840.9,1708.9 L1840.9,1722.0 L1840.8,1723.4 L1840.5,1724.9 L1840.0,1726.3 L1839.3,1727.6 L1838.4,1728.8 L1837.3,1729.9 L1836.1,1730.9 L1834.8,1731.7 L1833.4,1732.3 L1831.9,1732.8 L1830.3,1733.1 L1828.7,1733.2 L1827.1,1733.1 L1825.5,1732.8 L1824.0,1732.3 L1822.6,1731.7 L1821.3,1730.9 L1820.1,1729.9 L1819.0,1728.8 L1818.1,1727.6 L1817.4,1726.3 L1816.9,1724.9 L1816.6,1723.4 L1816.5,1722.0 Z M1840.9,1693.9 L1840.9,1739.9 L1840.9,1739.9 L1840.8,1741.2 L1840.5,1742.4 L1840.0,1743.7 L1839.3,1744.8 L1838.4,1745.9 L1837.3,1746.9 L1836.1,1747.7 L1834.8,1748.4 L1833.4,1749.0 L1831.9,1749.4 L1830.3,1749.7 L1828.7,1749.7 L1827.1,1749.7 L1825.5,1749.4 L1824.0,1749.0 L1822.6,1748.4 L1821.3,1747.7 L1820.1,1746.9 L1819.0,1745.9 L1818.1,1744.8 L1817.4,1743.7 L1816.9,1742.4 L1816.6,1741.2 L1816.5,1739.9" stroke="#1d1d1d" stroke-width="8.66" fill="none" stroke-linejoin="miter" stroke-miterlimit="2.5"/>
<path d="M1791.6,1693.9 L1802.0,1693.9 L1782.4,1722.0 L1772.0,1722.0 Z M1779.8,1712.4 L1790.3,1712.4 L1802.0,1738.7 L1791.6,1738.7 Z" fill="#1d1d1d" stroke="none"/>
<line x1="1985.8" y1="845.5" x2="2126" y2="818.5" stroke-width="2.8" />
<line x1="2084" y1="880" x2="2084" y2="1450" stroke-width="3.5" />
<polygon points="2084.2,831.7 2066.2,890 2101.2,902.1" fill="#1d1d1d" stroke="none"/>
<path d="M2052.3,1630.0 L2052.3,1617.0 L2105.7,1617.0 M2105.7,1630.0 L2105.7,1605.1 M2066.8,1592.5 L2052.3,1592.5 L2052.3,1570.2 L2109.5,1585.3 M2052.3,1529.3 L2052.3,1554.1 L2086.9,1554.1 M2079.0,1551.3 L2077.5,1550.3 L2076.1,1549.0 L2075.0,1547.7 L2074.1,1546.2 L2073.6,1544.7 L2073.3,1543.1 L2073.3,1541.6 L2073.6,1540.0 L2074.1,1538.5 L2075.0,1537.1 L2076.1,1535.7 L2077.4,1534.5 L2079.0,1533.4 L2080.8,1532.4 L2082.7,1531.7 L2084.7,1531.1 L2086.8,1530.8 L2089.0,1530.6 L2091.2,1530.7 L2093.3,1531.0 L2095.4,1531.4 L2097.3,1532.1 L2099.2,1532.9 L2100.8,1534.0 L2102.3,1535.1 L2103.5,1536.4 L2104.4,1537.9 L2105.1,1539.3 L2105.6,1540.9 L2105.7,1542.5 L2105.5,1544.0 L2105.1,1545.6 L2104.3,1547.0 L2103.3,1548.4 L2102.1,1549.7 L2100.6,1550.9 L2098.9,1551.9 L2097.1,1552.7 M2068.6,1514.5 L2065.0,1514.5 L2063.3,1514.4 L2061.6,1514.1 L2060.1,1513.6 L2058.6,1512.9 L2057.2,1512.0 L2055.9,1511.0 L2054.8,1509.8 L2053.9,1508.5 L2053.2,1507.1 L2052.7,1505.6 L2052.4,1504.1 L2052.3,1502.5 L2052.5,1500.9 L2052.8,1499.4 L2053.4,1498.0 L2054.2,1496.6 L2055.2,1495.3 L2056.3,1494.2 L2057.6,1493.2 L2059.1,1492.4 L2060.6,1491.8 L2062.2,1491.3 L2063.9,1491.1 L2070.5,1491.3 L2104.5,1513.9 M2105.7,1518.0 L2105.7,1487.5" stroke="#1d1d1d" stroke-width="8.39" fill="none" stroke-linejoin="miter" stroke-miterlimit="2.5"/>
<line x1="2084" y1="1667.5" x2="2084" y2="2140" stroke-width="3.5" />
<polygon points="2084,2195 2066,2125 2102.5,2137.5" fill="#1d1d1d" stroke="none"/>
<line x1="2001" y1="2223.5" x2="2130" y2="2180.5" stroke-width="3" />
<line x1="1220" y1="2352" x2="1285.3" y2="2398.6" stroke-width="3.5" />
<line x1="1415.4" y1="2492.2" x2="1470" y2="2531" stroke-width="3.5" />
<polygon points="1172,2318 1220.6,2334.3 1203.1,2358.7" fill="#1d1d1d" stroke="none"/>
<polygon points="1505.3,2556.8 1457.8,2542.4 1476.4,2516.4" fill="#1d1d1d" stroke="none"/>
<path d="M1342.5,2415.9 L1321.7,2400.7 L1302.7,2426.9 M1309.3,2422.6 L1311.1,2422.1 L1312.9,2421.8 L1314.6,2421.8 L1316.3,2422.0 L1317.9,2422.5 L1319.4,2423.3 L1320.7,2424.2 L1321.9,2425.4 L1322.8,2426.8 L1323.6,2428.3 L1324.1,2429.9 L1324.4,2431.7 L1324.4,2433.6 L1324.3,2435.5 L1323.9,2437.4 L1323.2,2439.2 L1322.3,2441.1 L1321.3,2442.8 L1320.0,2444.4 L1318.6,2445.9 L1317.1,2447.1 L1315.5,2448.2 L1313.7,2449.1 L1312.0,2449.7 L1310.2,2450.1 L1308.4,2450.2 L1306.7,2450.1 L1305.1,2449.7 L1303.5,2449.1 L1302.2,2448.2 L1300.9,2447.1 L1299.9,2445.8 L1299.0,2444.4 L1298.4,2442.7 L1298.0,2441.0 L1297.9,2439.2 L1297.9,2437.3 L1298.3,2435.4 M1352.0,2422.8 L1363.0,2430.7 L1333.7,2471.1 M1322.7,2463.1 L1343.6,2478.3 M1376.1,2455.9 L1377.2,2454.7 L1378.4,2453.5 L1379.8,2452.6 L1381.2,2451.8 L1382.8,2451.3 L1384.5,2450.9 L1386.2,2450.8 L1387.8,2450.9 L1389.5,2451.2 L1391.1,2451.7 L1392.7,2452.5 L1394.1,2453.4 L1395.5,2454.5 L1396.6,2455.7 L1397.6,2457.1 L1398.4,2458.6 L1399.0,2460.2 L1399.4,2461.8 L1399.6,2463.5 L1399.6,2465.2 L1399.3,2466.8 L1398.8,2468.4 L1398.2,2469.9 L1397.3,2471.3 L1382.9,2491.2 L1381.8,2492.4 L1380.6,2493.5 L1379.2,2494.5 L1377.7,2495.3 L1376.1,2495.8 L1374.5,2496.2 L1372.8,2496.3 L1371.1,2496.2 L1369.4,2495.9 L1367.8,2495.4 L1366.3,2494.6 L1364.8,2493.7 L1363.5,2492.6 L1362.3,2491.4 L1361.3,2490.0 L1360.5,2488.5 L1359.9,2486.9 L1359.5,2485.3 L1359.3,2483.6 L1359.4,2481.9 L1359.6,2480.3 L1360.1,2478.7 L1360.8,2477.2 L1361.7,2475.8 Z" stroke="#1d1d1d" stroke-width="7.84" fill="none" stroke-linejoin="miter" stroke-miterlimit="2.5"/>
<line x1="1220" y1="2490" x2="1297.2" y2="2542" stroke-width="3.5" />
<line x1="1418.7" y1="2639" x2="1485" y2="2688" stroke-width="3.5" />
<polygon points="1174.9,2456 1223.1,2473.3 1205.2,2497.3" fill="#1d1d1d" stroke="none"/>
<polygon points="1524.7,2717.3 1475.9,2700.8 1495,2675.2" fill="#1d1d1d" stroke="none"/>
<path d="M1351.2,2553.5 L1330.6,2538.5 L1311.5,2564.7 M1318.2,2560.4 L1319.9,2559.8 L1321.7,2559.6 L1323.4,2559.5 L1325.1,2559.8 L1326.7,2560.3 L1328.2,2561.0 L1329.5,2561.9 L1330.6,2563.1 L1331.6,2564.4 L1332.3,2566.0 L1332.8,2567.6 L1333.1,2569.4 L1333.1,2571.2 L1333.0,2573.1 L1332.5,2575.0 L1331.9,2576.9 L1331.0,2578.7 L1330.0,2580.4 L1328.7,2582.0 L1327.3,2583.5 L1325.8,2584.8 L1324.1,2585.9 L1322.4,2586.7 L1320.7,2587.4 L1318.9,2587.7 L1317.1,2587.9 L1315.4,2587.7 L1313.8,2587.4 L1312.3,2586.8 L1310.9,2585.9 L1309.7,2584.8 L1308.7,2583.5 L1307.8,2582.1 L1307.2,2580.5 L1306.9,2578.8 L1306.7,2577.0 L1306.8,2575.1 L1307.1,2573.2 M1384.2,2577.5 L1363.5,2562.5 L1344.5,2588.6 M1351.2,2584.3 L1352.9,2583.8 L1354.7,2583.5 L1356.4,2583.5 L1358.1,2583.7 L1359.7,2584.2 L1361.1,2584.9 L1362.5,2585.9 L1363.6,2587.1 L1364.5,2588.4 L1365.3,2589.9 L1365.8,2591.6 L1366.1,2593.3 L1366.1,2595.2 L1365.9,2597.1 L1365.5,2599.0 L1364.9,2600.9 L1364.0,2602.7 L1363.0,2604.4 L1361.7,2606.0 L1360.3,2607.5 L1358.8,2608.7 L1357.1,2609.8 L1355.4,2610.7 L1353.7,2611.3 L1351.9,2611.7 L1350.1,2611.8 L1348.4,2611.7 L1346.8,2611.3 L1345.3,2610.7 L1343.9,2609.9 L1342.7,2608.8 L1341.7,2607.5 L1340.8,2606.1 L1340.2,2604.5 L1339.8,2602.7 L1339.7,2600.9 L1339.8,2599.0 L1340.1,2597.1 M1395.0,2585.3 L1417.1,2601.4 L1391.9,2609.2 L1391.9,2609.2 L1393.3,2609.9 L1394.6,2610.8 L1395.8,2612.0 L1396.8,2613.3 L1397.5,2614.8 L1398.1,2616.4 L1398.4,2618.1 L1398.5,2619.9 L1398.4,2621.8 L1398.0,2623.6 L1397.4,2625.4 L1396.6,2627.2 L1395.6,2628.8 L1394.4,2630.4 L1393.1,2631.8 L1391.6,2633.0 L1390.0,2634.0 L1388.3,2634.8 L1386.6,2635.4 L1384.8,2635.8 L1383.1,2635.9 L1381.4,2635.7 L1379.8,2635.3 L1378.3,2634.7 L1376.9,2633.8 L1375.7,2632.8 L1374.6,2631.5 L1373.8,2630.1 L1373.2,2628.5 L1372.7,2626.8 L1372.6,2625.1 L1372.6,2623.2 L1372.9,2621.4" stroke="#1d1d1d" stroke-width="7.84" fill="none" stroke-linejoin="miter" stroke-miterlimit="2.5"/>
<line x1="381.2" y1="1469.1" x2="589.3" y2="1566.1" stroke-width="3.5" />
<polygon points="435.8,1493.8 396.2,1455.9 396.2,1494.7" fill="#1d1d1d" stroke="none"/>
<polygon points="472,1511.4 515.2,1511.4 515.2,1551.1" fill="#1d1d1d" stroke="none"/>
<line x1="434.6" y1="1460.3" x2="434.6" y2="1589" stroke-width="3.5" />
<line x1="472" y1="1476.2" x2="472" y2="1618.1" stroke-width="3.5" />
<path d="M536.5,1395.7 L520.4,1437.5 M531.1,1409.6 L531.1,1409.6 L531.7,1408.3 L532.5,1407.1 L533.4,1405.9 L534.5,1404.9 L535.7,1404.1 L536.9,1403.4 L538.3,1402.9 L539.7,1402.6 L541.1,1402.4 L542.5,1402.5 L543.9,1402.7 L545.3,1403.1 L546.6,1403.7 L547.8,1404.5 L548.9,1405.4 L549.8,1406.4 L550.6,1407.6 L551.3,1408.9 L551.8,1410.3 L552.1,1411.7 L552.2,1413.1 L552.1,1414.6 L551.9,1416.0 L551.4,1417.4 L540.7,1445.3 M551.4,1417.4 L551.4,1417.4 L552.0,1416.1 L552.8,1414.9 L553.7,1413.7 L554.8,1412.7 L556.0,1411.9 L557.2,1411.2 L558.6,1410.7 L560.0,1410.3 L561.4,1410.2 L562.8,1410.2 L564.2,1410.5 L565.6,1410.9 L566.9,1411.5 L568.1,1412.3 L569.2,1413.2 L570.1,1414.2 L570.9,1415.4 L571.6,1416.7 L572.1,1418.1 L572.4,1419.5 L572.5,1420.9 L572.4,1422.4 L572.2,1423.8 L571.7,1425.2 L561.0,1453.0 M593.2,1417.5 L577.2,1459.3 M609.4,1423.7 L593.4,1465.5 M604.1,1437.6 L604.1,1437.6 L604.7,1436.3 L605.5,1435.1 L606.4,1434.0 L607.5,1433.0 L608.7,1432.1 L610.0,1431.5 L611.4,1431.0 L612.9,1430.7 L614.3,1430.5 L615.8,1430.6 L617.3,1430.9 L618.7,1431.3 L620.1,1431.9 L621.3,1432.7 L622.5,1433.7 L623.5,1434.7 L624.4,1435.9 L625.1,1437.2 L625.6,1438.6 L625.9,1440.1 L626.1,1441.5 L626.0,1443.0 L625.8,1444.4 L625.4,1445.8 L614.7,1473.6" stroke="#1d1d1d" stroke-width="8.20" fill="none" stroke-linejoin="miter" stroke-miterlimit="2.5"/>
<path d="M595.0,1402.3 L602.1,1405.0 L599.2,1412.5 L592.1,1409.8 Z M630.7,1469.6 L639.8,1473.1 L636.4,1482.0 L627.3,1478.5 Z" fill="#1d1d1d" stroke="none"/>
<path d="M554.6,1464.9 L523.0,1492.4 L522.5,1493.8 M519.1,1492.5 L550.5,1504.6 M548.0,1483.7 L535.3,1516.7 M571.7,1485.5 L572.4,1483.9 L573.3,1482.5 L574.4,1481.2 L575.6,1480.0 L577.0,1479.0 L578.5,1478.2 L580.1,1477.6 L581.8,1477.2 L583.5,1477.0 L585.2,1477.1 L586.8,1477.4 L588.4,1477.9 L590.0,1478.6 L591.4,1479.5 L592.7,1480.6 L593.8,1481.8 L594.8,1483.2 L595.6,1484.7 L596.2,1486.3 L596.5,1488.0 L596.7,1489.7 L596.6,1491.4 L596.3,1493.1 L595.8,1494.8 L586.7,1518.4 L586.0,1520.0 L585.1,1521.5 L584.0,1522.8 L582.7,1523.9 L581.3,1524.9 L579.8,1525.7 L578.2,1526.4 L576.6,1526.7 L574.9,1526.9 L573.2,1526.8 L571.6,1526.6 L569.9,1526.1 L568.4,1525.4 L567.0,1524.5 L565.7,1523.4 L564.5,1522.1 L563.6,1520.7 L562.8,1519.2 L562.2,1517.6 L561.9,1515.9 L561.7,1514.2 L561.8,1512.5 L562.1,1510.8 L562.6,1509.2 Z" stroke="#1d1d1d" stroke-width="8.11" fill="none" stroke-linejoin="miter" stroke-miterlimit="2.5"/>
<line x1="369.4" y1="1609.4" x2="437.6" y2="1589.4" stroke-width="4" stroke-dasharray="29 15"/>
<line x1="452" y1="1602" x2="473" y2="1617" stroke-width="3.5"/>
<line x1="473" y1="1617" x2="516.4" y2="1654" stroke-width="3.5" />
<line x1="490.5" y1="1614" x2="686" y2="1559.5" stroke-width="4" stroke-dasharray="28 17"/>
<line x1="686" y1="1557.4" x2="837.4" y2="1508.6" stroke-width="3.5" />
<line x1="384.7" y1="1620" x2="643.4" y2="1834" stroke-width="4" stroke-dasharray="28.7 15.1"/>
<line x1="689" y1="1831" x2="1167.5" y2="2202.5" stroke-width="3.8" stroke-dasharray="25 17"/>
<line x1="554" y1="1627.8" x2="863.7" y2="1533.3" stroke-width="3.5" />
<polygon points="501.1,1640.2 539.9,1616.4 571.6,1640.2" fill="#1d1d1d" stroke="none"/>
<polygon points="863.7,1533.3 812,1530 830,1556" fill="#1d1d1d" stroke="none"/>
<path d="M570.5,1656.9 L582.7,1697.9 M574.6,1670.6 L574.6,1670.6 L574.3,1669.2 L574.1,1667.8 L574.2,1666.4 L574.5,1665.0 L574.9,1663.7 L575.5,1662.4 L576.3,1661.2 L577.2,1660.2 L578.2,1659.2 L579.4,1658.4 L580.7,1657.7 L582.0,1657.2 L583.4,1656.9 L584.8,1656.8 L586.3,1656.8 L587.7,1657.1 L589.0,1657.5 L590.3,1658.0 L591.5,1658.8 L592.6,1659.7 L593.6,1660.7 L594.4,1661.8 L595.1,1663.1 L595.5,1664.4 L603.6,1691.7 M595.5,1664.4 L595.5,1664.4 L595.2,1663.0 L595.1,1661.6 L595.2,1660.2 L595.4,1658.8 L595.9,1657.5 L596.5,1656.2 L597.2,1655.0 L598.2,1653.9 L599.2,1653.0 L600.4,1652.2 L601.7,1651.5 L603.0,1651.0 L604.4,1650.7 L605.8,1650.6 L607.2,1650.6 L608.7,1650.8 L610.0,1651.2 L611.3,1651.8 L612.5,1652.6 L613.6,1653.5 L614.6,1654.5 L615.4,1655.6 L616.0,1656.8 L616.5,1658.2 L624.6,1685.5 M629.2,1639.5 L641.3,1680.5 M645.9,1634.6 L658.1,1675.6 M650.0,1648.3 L650.0,1648.3 L649.7,1646.9 L649.6,1645.5 L649.6,1644.1 L649.9,1642.7 L650.4,1641.3 L651.0,1640.1 L651.9,1638.8 L652.8,1637.7 L654.0,1636.8 L655.2,1635.9 L656.5,1635.3 L657.9,1634.7 L659.4,1634.4 L660.9,1634.3 L662.4,1634.3 L663.8,1634.5 L665.3,1634.9 L666.6,1635.4 L667.9,1636.2 L669.0,1637.0 L670.0,1638.1 L670.8,1639.2 L671.5,1640.4 L672.0,1641.7 L680.1,1669.1 M726.1,1599.7 L700.4,1607.3 L709.6,1638.3 M710.3,1630.4 L711.0,1628.7 L712.0,1627.1 L713.1,1625.7 L714.3,1624.5 L715.8,1623.5 L717.3,1622.7 L718.9,1622.2 L720.6,1622.0 L722.4,1622.1 L724.1,1622.4 L725.8,1623.0 L727.4,1623.8 L729.0,1624.9 L730.4,1626.1 L731.7,1627.6 L732.8,1629.3 L733.7,1631.1 L734.5,1633.0 L735.0,1634.9 L735.3,1636.9 L735.3,1638.9 L735.2,1640.9 L734.8,1642.8 L734.1,1644.6 L733.3,1646.2 L732.3,1647.7 L731.1,1649.0 L729.7,1650.1 L728.2,1651.0 L726.6,1651.6 L724.9,1651.9 L723.2,1652.0 L721.5,1651.8 L719.8,1651.3 L718.1,1650.6 L716.5,1649.6 L715.0,1648.4 L713.7,1647.0 M745.1,1607.3 L744.7,1605.7 L744.6,1604.0 L744.7,1602.4 L745.0,1600.7 L745.6,1599.1 L746.3,1597.6 L747.3,1596.1 L748.5,1594.8 L749.8,1593.7 L751.3,1592.7 L752.8,1591.9 L754.5,1591.3 L756.3,1590.9 L758.0,1590.7 L759.8,1590.7 L761.5,1591.0 L763.2,1591.4 L764.8,1592.1 L766.3,1593.0 L767.6,1594.0 L768.8,1595.2 L769.8,1596.6 L770.6,1598.0 L771.2,1599.6 L778.1,1623.1 L778.5,1624.7 L778.6,1626.3 L778.5,1628.0 L778.2,1629.7 L777.6,1631.3 L776.9,1632.8 L775.9,1634.2 L774.7,1635.5 L773.4,1636.7 L771.9,1637.7 L770.4,1638.5 L768.7,1639.1 L766.9,1639.5 L765.2,1639.7 L763.4,1639.7 L761.7,1639.4 L760.0,1638.9 L758.4,1638.3 L756.9,1637.4 L755.6,1636.4 L754.4,1635.2 L753.4,1633.8 L752.6,1632.4 L752.0,1630.8 Z M787.9,1594.6 L787.5,1593.0 L787.4,1591.3 L787.5,1589.7 L787.8,1588.0 L788.4,1586.4 L789.2,1584.9 L790.1,1583.5 L791.3,1582.2 L792.6,1581.0 L794.1,1580.0 L795.7,1579.2 L797.4,1578.6 L799.1,1578.2 L800.9,1578.0 L802.6,1578.0 L804.4,1578.3 L806.0,1578.7 L807.6,1579.4 L809.1,1580.3 L810.5,1581.3 L811.6,1582.5 L812.6,1583.9 L813.4,1585.3 L814.0,1586.9 L821.0,1610.4 L821.3,1612.0 L821.5,1613.7 L821.4,1615.3 L821.0,1617.0 L820.5,1618.6 L819.7,1620.1 L818.7,1621.5 L817.6,1622.8 L816.2,1624.0 L814.8,1625.0 L813.2,1625.8 L811.5,1626.4 L809.8,1626.8 L808.0,1627.0 L806.2,1627.0 L804.5,1626.7 L802.8,1626.3 L801.2,1625.6 L799.8,1624.7 L798.4,1623.7 L797.2,1622.5 L796.2,1621.1 L795.4,1619.7 L794.9,1618.1 Z" stroke="#1d1d1d" stroke-width="7.84" fill="none" stroke-linejoin="miter" stroke-miterlimit="2.5"/>
<path d="M621.5,1627.0 L628.8,1624.8 L631.0,1632.2 L623.7,1634.3 Z M690.5,1656.5 L699.9,1653.7 L702.5,1662.4 L693.1,1665.2 Z" fill="#1d1d1d" stroke="none"/>
<path d="M725 1700 A 118 104 0 0 1 797 1765" stroke-width="3.5"/>
<polygon points="687,1696 736,1687 731,1719" fill="#1d1d1d" stroke="none"/>
<polygon points="805,1798 781,1761 809,1751" fill="#1d1d1d" stroke="none"/>
<path d="M809.1,1675.1 L808.4,1676.1 L807.5,1677.0 L806.7,1677.8 L805.7,1678.5 L804.7,1679.1 L803.7,1679.7 L802.6,1680.2 L801.4,1680.5 L800.3,1680.8 L799.1,1680.9 L797.9,1681.0 L796.8,1681.0 L795.6,1680.8 L794.4,1680.6 L793.3,1680.2 L792.2,1679.8 L791.2,1679.2 L790.2,1678.6 L789.2,1677.9 L788.4,1677.1 L787.6,1676.2 L786.9,1675.3 L786.2,1674.3 L785.7,1673.2 L785.3,1672.1 L784.9,1671.0 L784.7,1669.8 L784.5,1668.7 L784.5,1667.5 L784.5,1666.3 L784.7,1665.1 L785.0,1664.0 L785.3,1662.8 L785.8,1661.7 L786.3,1660.7 L787.0,1659.7 L787.7,1658.7 L788.5,1657.8 L789.4,1657.0 L790.3,1656.3 L791.3,1655.6 L792.4,1655.1 L793.5,1654.6 L794.6,1654.3 L795.8,1654.0 L796.9,1653.8 L798.1,1653.8 L799.3,1653.8 L800.5,1654.0 L801.6,1654.2 L802.7,1654.6 L803.8,1655.0 L804.9,1655.6 L805.9,1656.2 L806.8,1656.9 L807.7,1657.7 L808.5,1658.6 L809.2,1659.5 L809.8,1660.5 L810.3,1661.6 L810.8,1662.7 L811.1,1663.8 L811.4,1664.9 L811.5,1666.1 L811.6,1667.3 L811.5,1668.5 L811.4,1669.7 L811.1,1670.8 L810.7,1672.0 L810.3,1673.1 L809.7,1674.1 L809.1,1675.1 Z M766.2,1692.3 L802.1,1680.3 M824.1,1684.4 L825.2,1683.2 L826.4,1682.0 L827.8,1681.1 L829.3,1680.3 L830.9,1679.8 L832.6,1679.4 L834.3,1679.3 L836.1,1679.4 L837.8,1679.7 L839.5,1680.3 L841.2,1681.0 L842.7,1682.0 L844.1,1683.1 L845.4,1684.4 L846.5,1685.8 L847.4,1687.3 L848.1,1688.9 L848.6,1690.6 L848.8,1692.3 L848.9,1694.0 L848.7,1695.7 L848.2,1697.3 L847.6,1698.9 L846.7,1700.3 L832.7,1720.4 L831.6,1721.6 L830.4,1722.8 L829.0,1723.7 L827.5,1724.5 L825.9,1725.0 L824.2,1725.4 L822.5,1725.5 L820.7,1725.4 L819.0,1725.1 L817.3,1724.5 L815.6,1723.8 L814.1,1722.8 L812.7,1721.7 L811.4,1720.4 L810.3,1719.0 L809.4,1717.5 L808.7,1715.9 L808.2,1714.2 L808.0,1712.5 L807.9,1710.8 L808.1,1709.1 L808.6,1707.5 L809.2,1706.0 L810.1,1704.5 Z" stroke="#1d1d1d" stroke-width="8.91" fill="none" stroke-linejoin="miter" stroke-miterlimit="2.5"/>
<circle cx="880" cy="1718" r="10" stroke-width="5"/>
<polyline points="524.6,1573 634.7,2342.9 765,1871.6" fill="none" stroke-width="3.5" />
<line x1="173.2" y1="2342.9" x2="634.7" y2="2342.9" stroke-width="3.5" />
<path d="M179.1,2265.1 L179.1,2310.5 M179.1,2280.2 L179.1,2280.2 L179.2,2278.8 L179.5,2277.3 L179.9,2275.9 L180.6,2274.6 L181.4,2273.3 L182.3,2272.2 L183.4,2271.3 L184.6,2270.4 L185.8,2269.8 L187.2,2269.3 L188.6,2269.0 L190.0,2268.9 L191.4,2269.0 L192.8,2269.3 L194.2,2269.8 L195.5,2270.4 L196.7,2271.3 L197.7,2272.2 L198.7,2273.3 L199.5,2274.6 L200.1,2275.9 L200.6,2277.3 L200.8,2278.8 L200.9,2280.2 L200.9,2310.5 M200.9,2280.2 L200.9,2280.2 L201.0,2278.8 L201.3,2277.3 L201.8,2275.9 L202.4,2274.6 L203.2,2273.3 L204.1,2272.2 L205.2,2271.3 L206.4,2270.4 L207.7,2269.8 L209.0,2269.3 L210.4,2269.0 L211.8,2268.9 L213.2,2269.0 L214.6,2269.3 L216.0,2269.8 L217.3,2270.4 L218.5,2271.3 L219.5,2272.2 L220.5,2273.3 L221.3,2274.6 L221.9,2275.9 L222.4,2277.3 L222.6,2278.8 L222.7,2280.2 L222.7,2310.5 M240.1,2265.1 L240.1,2310.5 M257.5,2265.1 L257.5,2310.5 M257.5,2280.2 L257.5,2280.2 L257.6,2278.8 L257.9,2277.3 L258.4,2275.9 L259.0,2274.6 L259.9,2273.3 L260.9,2272.2 L262.0,2271.3 L263.2,2270.4 L264.6,2269.8 L266.0,2269.3 L267.4,2269.0 L268.9,2268.9 L270.4,2269.0 L271.9,2269.3 L273.3,2269.8 L274.7,2270.4 L275.9,2271.3 L277.0,2272.2 L278.0,2273.3 L278.8,2274.6 L279.5,2275.9 L280.0,2277.3 L280.3,2278.8 L280.4,2280.2 L280.4,2310.5 M330.7,2270.0 L330.7,2266.3 L330.8,2264.7 L331.2,2263.0 L331.7,2261.5 L332.5,2260.0 L333.4,2258.6 L334.5,2257.4 L335.8,2256.3 L337.2,2255.4 L338.7,2254.7 L340.3,2254.1 L342.0,2253.9 L343.7,2253.8 L345.3,2253.9 L347.0,2254.3 L348.5,2254.9 L350.0,2255.7 L351.4,2256.6 L352.6,2257.8 L353.7,2259.1 L354.6,2260.5 L355.2,2262.0 L355.7,2263.6 L356.0,2265.2 L355.7,2271.8 L331.3,2305.5 M326.9,2306.7 L359.8,2306.7 M373.4,2267.2 L373.5,2265.5 L373.9,2263.8 L374.4,2262.1 L375.2,2260.5 L376.2,2259.0 L377.4,2257.7 L378.7,2256.6 L380.2,2255.6 L381.8,2254.8 L383.5,2254.2 L385.2,2253.9 L387.0,2253.8 L388.8,2253.9 L390.5,2254.2 L392.2,2254.8 L393.8,2255.6 L395.2,2256.6 L396.6,2257.7 L397.8,2259.0 L398.7,2260.5 L399.5,2262.1 L400.1,2263.8 L400.4,2265.5 L400.6,2267.2 L400.6,2293.3 L400.4,2295.0 L400.1,2296.7 L399.5,2298.4 L398.7,2300.0 L397.8,2301.5 L396.6,2302.8 L395.2,2303.9 L393.8,2304.9 L392.2,2305.7 L390.5,2306.3 L388.8,2306.6 L387.0,2306.7 L385.2,2306.6 L383.5,2306.3 L381.8,2305.7 L380.2,2304.9 L378.7,2303.9 L377.4,2302.8 L376.2,2301.5 L375.2,2300.0 L374.4,2298.4 L373.9,2296.7 L373.5,2295.0 L373.4,2293.3 Z M417.9,2267.2 L418.1,2265.5 L418.4,2263.8 L419.0,2262.1 L419.8,2260.5 L420.7,2259.0 L421.9,2257.7 L423.3,2256.6 L424.7,2255.6 L426.3,2254.8 L428.0,2254.2 L429.7,2253.9 L431.5,2253.8 L433.3,2253.9 L435.0,2254.2 L436.7,2254.8 L438.3,2255.6 L439.8,2256.6 L441.1,2257.7 L442.3,2259.0 L443.3,2260.5 L444.1,2262.1 L444.6,2263.8 L445.0,2265.5 L445.1,2267.2 L445.1,2293.3 L445.0,2295.0 L444.6,2296.7 L444.1,2298.4 L443.3,2300.0 L442.3,2301.5 L441.1,2302.8 L439.8,2303.9 L438.3,2304.9 L436.7,2305.7 L435.0,2306.3 L433.3,2306.6 L431.5,2306.7 L429.7,2306.6 L428.0,2306.3 L426.3,2305.7 L424.7,2304.9 L423.3,2303.9 L421.9,2302.8 L420.7,2301.5 L419.8,2300.0 L419.0,2298.4 L418.4,2296.7 L418.1,2295.0 L417.9,2293.3 Z M499.4,2281.5 L499.4,2280.6 L499.3,2279.0 L499.0,2277.5 L498.5,2276.1 L497.8,2274.7 L497.0,2273.5 L495.9,2272.3 L494.8,2271.3 L493.5,2270.5 L492.1,2269.8 L490.7,2269.3 L489.2,2269.0 L487.6,2268.9 L486.1,2269.0 L484.6,2269.3 L483.1,2269.8 L481.8,2270.5 L480.5,2271.3 L479.3,2272.3 L478.3,2273.5 L477.5,2274.7 L476.8,2276.1 L476.3,2277.5 L476.0,2279.0 L475.9,2280.6 L475.9,2295.1 L476.0,2296.6 L476.3,2298.1 L476.8,2299.5 L477.5,2300.9 L478.3,2302.2 L479.3,2303.3 L480.5,2304.3 L481.8,2305.2 L483.1,2305.8 L484.6,2306.3 L486.1,2306.6 L487.6,2306.7 L489.2,2306.6 L490.7,2306.3 L492.1,2305.8 L493.5,2305.2 L494.8,2304.3 L495.9,2303.3 L497.0,2302.2 L497.8,2300.9 L498.5,2299.5 L499.0,2298.1 L499.3,2296.6 L499.4,2295.1 L499.4,2294.2 M516.8,2265.1 L516.8,2310.5 M516.8,2280.2 L516.8,2280.2 L516.9,2278.8 L517.1,2277.3 L517.6,2275.9 L518.2,2274.6 L519.0,2273.3 L520.0,2272.2 L521.0,2271.3 L522.2,2270.4 L523.5,2269.8 L524.9,2269.3 L526.3,2269.0 L527.7,2268.9 L529.1,2269.0 L530.5,2269.3 L531.8,2269.8 L533.1,2270.4 L534.3,2271.3 L535.4,2272.2 L536.3,2273.3 L537.1,2274.6 L537.7,2275.9 L538.2,2277.3 L538.5,2278.8 L538.6,2280.2 L538.6,2310.5 M538.6,2280.2 L538.6,2280.2 L538.7,2278.8 L538.9,2277.3 L539.4,2275.9 L540.0,2274.6 L540.8,2273.3 L541.8,2272.2 L542.8,2271.3 L544.0,2270.4 L545.3,2269.8 L546.7,2269.3 L548.1,2269.0 L549.5,2268.9 L550.9,2269.0 L552.3,2269.3 L553.7,2269.8 L554.9,2270.4 L556.1,2271.3 L557.2,2272.2 L558.1,2273.3 L558.9,2274.6 L559.6,2275.9 L560.0,2277.3 L560.3,2278.8 L560.4,2280.2 L560.4,2310.5" stroke="#1d1d1d" stroke-width="7.56" fill="none" stroke-linejoin="miter" stroke-miterlimit="2.5"/>
<path d="M236.3,2250.0 L243.9,2250.0 L243.9,2258.2 L236.3,2258.2 Z M294.0,2300.8 L303.7,2300.8 L303.7,2310.5 L294.0,2310.5 Z" fill="#1d1d1d" stroke="none"/>
<path d="M573.4,2259.2 L573.4,2257.6 L573.4,2256.8 L573.6,2256.0 L573.8,2255.3 L574.2,2254.6 L574.7,2254.0 L575.2,2253.4 L575.8,2252.9 L576.5,2252.5 L577.2,2252.2 L578.0,2251.9 L578.8,2251.8 L579.6,2251.8 L580.5,2251.8 L581.2,2252.0 L582.0,2252.3 L582.7,2252.6 L583.4,2253.1 L584.0,2253.6 L584.5,2254.2 L584.9,2254.8 L585.3,2255.6 L585.5,2256.3 L585.6,2257.1 L585.5,2260.1 L573.6,2275.7 M571.5,2276.2 L587.5,2276.2" stroke="#1d1d1d" stroke-width="6.65" fill="none" stroke-linejoin="miter" stroke-miterlimit="2.5"/>
<polygon points="882.9,1829.1 957.5,1842.9 934.2,1854 1004.6,1904.2 980.7,1911.6 908.8,1860.3 872.3,1868.8" fill="#1d1d1d" stroke="none"/>
</g></svg></body></html>
